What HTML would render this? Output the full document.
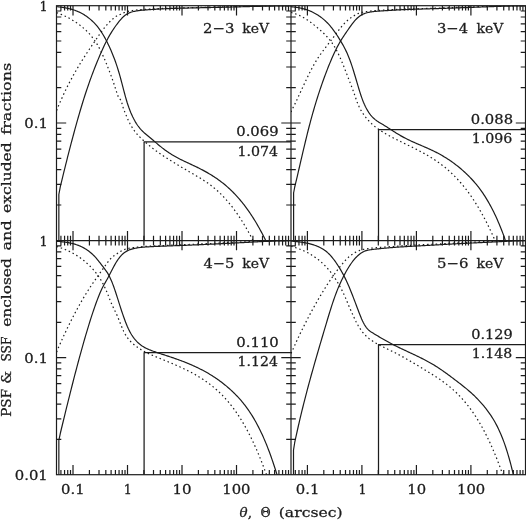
<!DOCTYPE html>
<html><head><meta charset="utf-8"><title>PSF &amp; SSF enclosed and excluded fractions</title>
<style>html,body{margin:0;padding:0;background:#fff}body{width:526px;height:521px;overflow:hidden}</style></head>
<body>
<svg width="526" height="521" viewBox="0 0 526 521" style="display:block">
<rect width="526" height="521" fill="#fff"/>
<defs>
<clipPath id="c0"><rect x="56.50" y="5.70" width="234.50" height="234.90"/></clipPath>
<clipPath id="c1"><rect x="291.00" y="5.70" width="234.50" height="234.90"/></clipPath>
<clipPath id="c2"><rect x="56.50" y="240.60" width="234.50" height="234.10"/></clipPath>
<clipPath id="c3"><rect x="291.00" y="240.60" width="234.50" height="234.10"/></clipPath>
</defs>
<g fill="none" stroke="#1c1c1c" stroke-width="1.2" stroke-linejoin="round">
<g clip-path="url(#c0)">
<path d="M56.66 6.66 L57.56 6.76 L58.47 6.88 L59.37 7.02 L60.28 7.13 L61.18 7.24 L62.09 7.37 L62.99 7.50 L63.89 7.64 L64.80 7.79 L65.70 7.95 L66.61 8.13 L67.51 8.31 L68.42 8.51 L69.32 8.72 L70.23 8.94 L71.13 9.18 L72.04 9.44 L72.94 9.71 L73.85 10.00 L74.75 10.30 L75.66 10.63 L76.56 10.98 L77.47 11.34 L78.37 11.73 L79.28 12.14 L80.18 12.58 L81.09 13.04 L81.99 13.52 L82.90 14.03 L83.80 14.57 L84.71 15.13 L85.61 15.72 L86.52 16.34 L87.42 16.99 L88.33 17.66 L89.23 18.37 L90.13 19.11 L91.04 19.89 L91.94 20.70 L92.85 21.55 L93.75 22.45 L94.66 23.38 L95.56 24.36 L96.47 25.40 L97.37 26.48 L98.28 27.62 L99.18 28.82 L100.09 30.08 L100.99 31.41 L101.90 32.80 L102.80 34.26 L103.71 35.78 L104.61 37.37 L105.52 39.03 L106.42 40.75 L107.33 42.54 L108.23 44.40 L109.14 46.32 L110.04 48.30 L110.95 50.34 L111.85 52.46 L112.76 54.65 L113.66 56.92 L114.57 59.30 L115.47 61.77 L116.37 64.37 L117.28 67.10 L118.18 69.96 L119.09 72.99 L119.99 76.17 L120.90 79.49 L121.80 82.90 L122.71 86.36 L123.61 89.82 L124.52 93.24 L125.42 96.56 L126.33 99.73 L127.23 102.71 L128.14 105.48 L129.04 108.06 L129.95 110.46 L130.85 112.70 L131.76 114.79 L132.66 116.75 L133.57 118.58 L134.47 120.28 L135.38 121.87 L136.28 123.35 L137.19 124.73 L138.09 126.01 L139.00 127.20 L139.90 128.32 L140.80 129.36 L141.71 130.33 L142.61 131.25 L143.52 132.12 L144.42 132.95 L145.33 133.75 L146.23 134.52 L147.14 135.27 L148.04 136.02 L148.95 136.77 L149.85 137.52 L150.76 138.28 L151.66 139.05 L152.57 139.81 L153.47 140.58 L154.38 141.35 L155.28 142.12 L156.19 142.89 L157.09 143.66 L158.00 144.42 L158.90 145.17 L159.81 145.92 L160.71 146.65 L161.62 147.38 L162.52 148.10 L163.43 148.80 L164.33 149.49 L165.24 150.17 L166.14 150.83 L167.04 151.47 L167.95 152.09 L168.85 152.70 L169.76 153.29 L170.66 153.87 L171.57 154.43 L172.47 154.98 L173.38 155.52 L174.28 156.04 L175.19 156.55 L176.09 157.06 L177.00 157.55 L177.90 158.03 L178.81 158.51 L179.71 158.97 L180.62 159.43 L181.52 159.88 L182.43 160.33 L183.33 160.76 L184.24 161.20 L185.14 161.63 L186.05 162.06 L186.95 162.48 L187.86 162.90 L188.76 163.32 L189.67 163.74 L190.57 164.16 L191.48 164.59 L192.38 165.01 L193.28 165.43 L194.19 165.86 L195.09 166.29 L196.00 166.72 L196.90 167.16 L197.81 167.61 L198.71 168.05 L199.62 168.51 L200.52 168.97 L201.43 169.43 L202.33 169.90 L203.24 170.38 L204.14 170.87 L205.05 171.36 L205.95 171.86 L206.86 172.37 L207.76 172.89 L208.67 173.42 L209.57 173.95 L210.48 174.50 L211.38 175.05 L212.29 175.62 L213.19 176.19 L214.10 176.78 L215.00 177.38 L215.91 177.99 L216.81 178.61 L217.72 179.25 L218.62 179.90 L219.52 180.56 L220.43 181.23 L221.33 181.92 L222.24 182.62 L223.14 183.34 L224.05 184.07 L224.95 184.82 L225.86 185.58 L226.76 186.36 L227.67 187.16 L228.57 187.97 L229.48 188.80 L230.38 189.65 L231.29 190.52 L232.19 191.40 L233.10 192.30 L234.00 193.22 L234.91 194.16 L235.81 195.13 L236.72 196.11 L237.62 197.11 L238.53 198.13 L239.43 199.17 L240.34 200.24 L241.24 201.33 L242.15 202.44 L243.05 203.57 L243.96 204.73 L244.86 205.91 L245.76 207.11 L246.67 208.34 L247.57 209.59 L248.48 210.87 L249.38 212.17 L250.29 213.50 L251.19 214.85 L252.10 216.23 L253.00 217.64 L253.91 219.08 L254.81 220.54 L255.72 222.03 L256.62 223.55 L257.53 225.10 L258.43 226.68 L259.34 228.28 L260.24 229.92 L261.15 231.59 L262.05 233.28 L262.96 235.01 L263.86 236.77 L264.77 238.56 L265.67 240.53 L266.58 242.33 L267.48 244.12 L268.39 245.92 L269.29 247.72 L270.20 249.51 L271.10 251.31 L272.00 253.11 L272.91 254.91 L273.81 256.71 L274.72 258.51 L275.62 260.31 L276.53 262.11 L277.43 263.91 L278.34 265.72 L279.24 267.52 L280.15 269.32 L281.05 271.12 L281.96 272.93 L282.86 274.73 L283.77 276.54 L284.67 278.34 L285.58 280.14 L286.48 281.95 L287.39 283.75 L288.29 285.56 L289.20 287.37 L290.10 289.17 L291.01 290.98"/>
<path d="M58.85 240.60 L58.85 194.50 L60.28 186.87 L61.18 183.10 L62.09 179.35 L62.99 175.63 L63.89 171.94 L64.80 168.28 L65.70 164.64 L66.61 161.03 L67.51 157.45 L68.42 153.90 L69.32 150.38 L70.23 146.90 L71.13 143.44 L72.04 140.01 L72.94 136.62 L73.85 133.26 L74.75 129.94 L75.66 126.65 L76.56 123.40 L77.47 120.18 L78.37 117.01 L79.28 113.87 L80.18 110.78 L81.09 107.74 L81.99 104.74 L82.90 101.79 L83.80 98.89 L84.71 96.04 L85.61 93.24 L86.52 90.50 L87.42 87.82 L88.33 85.18 L89.23 82.60 L90.13 80.07 L91.04 77.59 L91.94 75.15 L92.85 72.75 L93.75 70.39 L94.66 68.07 L95.56 65.78 L96.47 63.53 L97.37 61.31 L98.28 59.12 L99.18 56.97 L100.09 54.85 L100.99 52.76 L101.90 50.72 L102.80 48.71 L103.71 46.76 L104.61 44.85 L105.52 43.00 L106.42 41.20 L107.33 39.46 L108.23 37.77 L109.14 36.14 L110.04 34.57 L110.95 33.07 L111.85 31.61 L112.76 30.21 L113.66 28.85 L114.57 27.53 L115.47 26.25 L116.37 25.00 L117.28 23.79 L118.18 22.61 L119.09 21.47 L119.99 20.36 L120.90 19.29 L121.80 18.29 L122.71 17.36 L123.61 16.50 L124.52 15.72 L125.42 15.02 L126.33 14.41 L127.23 13.87 L128.14 13.40 L129.04 12.99 L129.95 12.62 L130.85 12.30 L131.76 12.02 L132.66 11.76 L133.57 11.54 L134.47 11.33 L135.38 11.15 L136.28 10.98 L137.19 10.83 L138.09 10.70 L139.00 10.57 L139.90 10.46 L140.80 10.36 L141.71 10.27 L142.61 10.18 L143.52 10.10 L144.42 10.03 L145.33 9.95 L146.23 9.89 L147.14 9.82 L148.04 9.76 L148.95 9.70 L149.85 9.63 L150.76 9.57 L151.66 9.51 L152.57 9.45 L153.47 9.39 L154.38 9.34 L155.28 9.28 L156.19 9.22 L157.09 9.17 L158.00 9.11 L158.90 9.06 L159.81 9.01 L160.71 8.96 L161.62 8.91 L162.52 8.86 L163.43 8.82 L164.33 8.77 L165.24 8.73 L166.14 8.69 L167.04 8.65 L167.95 8.61 L168.85 8.58 L169.76 8.54 L170.66 8.51 L171.57 8.48 L172.47 8.45 L173.38 8.42 L174.28 8.39 L175.19 8.36 L176.09 8.33 L177.00 8.31 L177.90 8.28 L178.81 8.25 L179.71 8.23 L180.62 8.21 L181.52 8.18 L182.43 8.16 L183.33 8.14 L184.24 8.12 L185.14 8.10 L186.05 8.08 L186.95 8.05 L187.86 8.03 L188.76 8.01 L189.67 7.99 L190.57 7.97 L191.48 7.96 L192.38 7.94 L193.28 7.92 L194.19 7.90 L195.09 7.88 L196.00 7.86 L196.90 7.84 L197.81 7.82 L198.71 7.80 L199.62 7.78 L200.52 7.76 L201.43 7.74 L202.33 7.72 L203.24 7.70 L204.14 7.68 L205.05 7.66 L205.95 7.64 L206.86 7.62 L207.76 7.60 L208.67 7.58 L209.57 7.56 L210.48 7.54 L211.38 7.52 L212.29 7.50 L213.19 7.48 L214.10 7.46 L215.00 7.43 L215.91 7.41 L216.81 7.39 L217.72 7.37 L218.62 7.35 L219.52 7.32 L220.43 7.30 L221.33 7.28 L222.24 7.26 L223.14 7.23 L224.05 7.21 L224.95 7.19 L225.86 7.16 L226.76 7.14 L227.67 7.12 L228.57 7.09 L229.48 7.07 L230.38 7.05 L231.29 7.02 L232.19 7.00 L233.10 6.98 L234.00 6.95 L234.91 6.93 L235.81 6.90 L236.72 6.88 L237.62 6.85 L238.53 6.83 L239.43 6.81 L240.34 6.78 L241.24 6.76 L242.15 6.73 L243.05 6.71 L243.96 6.69 L244.86 6.66 L245.76 6.64 L246.67 6.61 L247.57 6.59 L248.48 6.57 L249.38 6.54 L250.29 6.52 L251.19 6.50 L252.10 6.47 L253.00 6.45 L253.91 6.43 L254.81 6.41 L255.72 6.39 L256.62 6.36 L257.53 6.34 L258.43 6.32 L259.34 6.30 L260.24 6.28 L261.15 6.26 L262.05 6.24 L262.96 6.22 L263.86 6.20 L264.77 6.18 L265.67 6.16 L266.58 6.14 L267.48 6.13 L268.39 6.11 L269.29 6.09 L270.20 6.08 L271.10 6.06 L272.00 6.05 L272.91 6.03 L273.81 6.02 L274.72 6.01 L275.62 6.00 L276.53 5.98 L277.43 5.97 L278.34 5.96 L279.24 5.95 L280.15 5.94 L281.05 5.93 L281.96 5.92 L282.86 5.91 L283.77 5.90 L284.67 5.89 L285.58 5.88 L286.48 5.88 L287.39 5.87 L288.29 5.86 L289.20 5.85 L290.10 5.85 L291.01 5.84"/>
<path d="M56.66 12.62 L57.56 12.99 L58.47 13.33 L59.37 13.69 L60.28 14.05 L61.18 14.42 L62.09 14.80 L62.99 15.20 L63.89 15.61 L64.80 16.02 L65.70 16.46 L66.61 16.90 L67.51 17.36 L68.42 17.83 L69.32 18.31 L70.23 18.81 L71.13 19.33 L72.04 19.85 L72.94 20.40 L73.85 20.96 L74.75 21.54 L75.66 22.13 L76.56 22.75 L77.47 23.38 L78.37 24.03 L79.28 24.70 L80.18 25.39 L81.09 26.11 L81.99 26.84 L82.90 27.61 L83.80 28.39 L84.71 29.20 L85.61 30.04 L86.52 30.90 L87.42 31.80 L88.33 32.73 L89.23 33.70 L90.13 34.71 L91.04 35.76 L91.94 36.86 L92.85 38.01 L93.75 39.22 L94.66 40.48 L95.56 41.81 L96.47 43.21 L97.37 44.68 L98.28 46.23 L99.18 47.86 L100.09 49.58 L100.99 51.38 L101.90 53.25 L102.80 55.21 L103.71 57.23 L104.61 59.33 L105.52 61.48 L106.42 63.69 L107.33 65.94 L108.23 68.24 L109.14 70.56 L110.04 72.93 L110.95 75.35 L111.85 77.83 L112.76 80.37 L113.66 83.00 L114.57 85.72 L115.47 88.54 L116.37 91.41 L117.28 94.12 L118.18 96.44 L119.09 98.11 L119.99 99.12 L120.90 100.36 L121.80 102.87 L122.71 106.20 L123.61 109.08 L124.52 111.36 L125.42 113.48 L126.33 115.68 L127.23 117.85 L128.14 119.89 L129.04 121.80 L129.95 123.59 L130.85 125.26 L131.76 126.81 L132.66 128.27 L133.57 129.63 L134.47 130.90 L135.38 132.09 L136.28 133.20 L137.19 134.26 L138.09 135.26 L139.00 136.20 L139.90 137.11 L140.80 137.99 L141.71 138.85 L142.61 139.69 L143.52 140.52 L144.42 141.34 L145.33 142.15 L146.23 142.94 L147.14 143.72 L148.04 144.49 L148.95 145.25 L149.85 146.00 L150.76 146.74 L151.66 147.47 L152.57 148.18 L153.47 148.89 L154.38 149.58 L155.28 150.26 L156.19 150.94 L157.09 151.60 L158.00 152.25 L158.90 152.89 L159.81 153.53 L160.71 154.15 L161.62 154.76 L162.52 155.37 L163.43 155.96 L164.33 156.55 L165.24 157.14 L166.14 157.72 L167.04 158.29 L167.95 158.86 L168.85 159.43 L169.76 159.99 L170.66 160.55 L171.57 161.11 L172.47 161.67 L173.38 162.23 L174.28 162.78 L175.19 163.33 L176.09 163.88 L177.00 164.43 L177.90 164.97 L178.81 165.52 L179.71 166.06 L180.62 166.60 L181.52 167.14 L182.43 167.68 L183.33 168.21 L184.24 168.75 L185.14 169.29 L186.05 169.82 L186.95 170.35 L187.86 170.88 L188.76 171.41 L189.67 171.94 L190.57 172.47 L191.48 173.00 L192.38 173.53 L193.28 174.06 L194.19 174.59 L195.09 175.12 L196.00 175.65 L196.90 176.18 L197.81 176.72 L198.71 177.26 L199.62 177.81 L200.52 178.36 L201.43 178.92 L202.33 179.49 L203.24 180.06 L204.14 180.65 L205.05 181.24 L205.95 181.85 L206.86 182.47 L207.76 183.10 L208.67 183.74 L209.57 184.40 L210.48 185.07 L211.38 185.75 L212.29 186.46 L213.19 187.18 L214.10 187.92 L215.00 188.67 L215.91 189.45 L216.81 190.24 L217.72 191.06 L218.62 191.89 L219.52 192.75 L220.43 193.62 L221.33 194.52 L222.24 195.43 L223.14 196.37 L224.05 197.33 L224.95 198.31 L225.86 199.31 L226.76 200.33 L227.67 201.38 L228.57 202.44 L229.48 203.53 L230.38 204.64 L231.29 205.78 L232.19 206.94 L233.10 208.12 L234.00 209.32 L234.91 210.55 L235.81 211.80 L236.72 213.08 L237.62 214.38 L238.53 215.71 L239.43 217.06 L240.34 218.43 L241.24 219.83 L242.15 221.26 L243.05 222.71 L243.96 224.19 L244.86 225.70 L245.76 227.23 L246.67 228.78 L247.57 230.37 L248.48 231.98 L249.38 233.62 L250.29 235.29 L251.19 236.98 L252.10 238.70 L253.00 240.59 L253.91 242.37 L254.81 244.15 L255.72 245.94 L256.62 247.72 L257.53 249.51 L258.43 251.29 L259.34 253.08 L260.24 254.87 L261.15 256.66 L262.05 258.44 L262.96 260.23 L263.86 262.02 L264.77 263.81 L265.67 265.60 L266.58 267.39 L267.48 269.18 L268.39 270.97 L269.29 272.76 L270.20 274.56 L271.10 276.35 L272.00 278.14 L272.91 279.93 L273.81 281.73 L274.72 283.52 L275.62 285.31 L276.53 287.11 L277.43 288.90 L278.34 290.69 L279.24 292.49 L280.15 294.28 L281.05 296.08 L281.96 297.87 L282.86 299.67 L283.77 301.46 L284.67 303.26 L285.58 305.05 L286.48 306.85 L287.39 308.65 L288.29 310.44 L289.20 312.24 L290.10 314.04 L291.01 315.83" stroke-dasharray="1.5 2.8"/>
<path d="M56.66 110.52 L57.56 108.00 L58.47 105.86 L59.37 103.76 L60.28 101.69 L61.18 99.66 L62.09 97.67 L62.99 95.70 L63.89 93.77 L64.80 91.87 L65.70 90.00 L66.61 88.16 L67.51 86.35 L68.42 84.57 L69.32 82.81 L70.23 81.08 L71.13 79.38 L72.04 77.70 L72.94 76.04 L73.85 74.40 L74.75 72.79 L75.66 71.20 L76.56 69.63 L77.47 68.08 L78.37 66.54 L79.28 65.03 L80.18 63.53 L81.09 62.06 L81.99 60.60 L82.90 59.15 L83.80 57.73 L84.71 56.32 L85.61 54.92 L86.52 53.54 L87.42 52.17 L88.33 50.81 L89.23 49.46 L90.13 48.12 L91.04 46.78 L91.94 45.45 L92.85 44.12 L93.75 42.80 L94.66 41.47 L95.56 40.15 L96.47 38.84 L97.37 37.52 L98.28 36.22 L99.18 34.91 L100.09 33.62 L100.99 32.34 L101.90 31.09 L102.80 29.86 L103.71 28.67 L104.61 27.51 L105.52 26.40 L106.42 25.32 L107.33 24.29 L108.23 23.31 L109.14 22.38 L110.04 21.49 L110.95 20.63 L111.85 19.81 L112.76 19.02 L113.66 18.26 L114.57 17.52 L115.47 16.81 L116.37 16.13 L117.28 15.53 L118.18 15.05 L119.09 14.72 L119.99 14.52 L120.90 14.29 L121.80 13.84 L122.71 13.28 L123.61 12.83 L124.52 12.49 L125.42 12.20 L126.33 11.90 L127.23 11.63 L128.14 11.38 L129.04 11.15 L129.95 10.95 L130.85 10.77 L131.76 10.61 L132.66 10.47 L133.57 10.33 L134.47 10.21 L135.38 10.10 L136.28 10.00 L137.19 9.91 L138.09 9.82 L139.00 9.74 L139.90 9.67 L140.80 9.60 L141.71 9.53 L142.61 9.46 L143.52 9.40 L144.42 9.34 L145.33 9.28 L146.23 9.22 L147.14 9.16 L148.04 9.11 L148.95 9.05 L149.85 9.00 L150.76 8.95 L151.66 8.91 L152.57 8.86 L153.47 8.81 L154.38 8.77 L155.28 8.73 L156.19 8.68 L157.09 8.64 L158.00 8.60 L158.90 8.57 L159.81 8.53 L160.71 8.49 L161.62 8.46 L162.52 8.42 L163.43 8.39 L164.33 8.36 L165.24 8.33 L166.14 8.30 L167.04 8.27 L167.95 8.24 L168.85 8.21 L169.76 8.18 L170.66 8.15 L171.57 8.12 L172.47 8.09 L173.38 8.07 L174.28 8.04 L175.19 8.01 L176.09 7.99 L177.00 7.96 L177.90 7.94 L178.81 7.91 L179.71 7.89 L180.62 7.86 L181.52 7.84 L182.43 7.82 L183.33 7.79 L184.24 7.77 L185.14 7.75 L186.05 7.73 L186.95 7.70 L187.86 7.68 L188.76 7.66 L189.67 7.64 L190.57 7.62 L191.48 7.60 L192.38 7.58 L193.28 7.56 L194.19 7.54 L195.09 7.52 L196.00 7.50 L196.90 7.48 L197.81 7.46 L198.71 7.44 L199.62 7.42 L200.52 7.40 L201.43 7.38 L202.33 7.36 L203.24 7.34 L204.14 7.32 L205.05 7.30 L205.95 7.28 L206.86 7.26 L207.76 7.24 L208.67 7.22 L209.57 7.20 L210.48 7.18 L211.38 7.16 L212.29 7.14 L213.19 7.12 L214.10 7.10 L215.00 7.07 L215.91 7.05 L216.81 7.03 L217.72 7.01 L218.62 6.99 L219.52 6.96 L220.43 6.94 L221.33 6.92 L222.24 6.90 L223.14 6.87 L224.05 6.85 L224.95 6.83 L225.86 6.80 L226.76 6.78 L227.67 6.76 L228.57 6.73 L229.48 6.71 L230.38 6.69 L231.29 6.66 L232.19 6.64 L233.10 6.62 L234.00 6.60 L234.91 6.57 L235.81 6.55 L236.72 6.53 L237.62 6.51 L238.53 6.48 L239.43 6.46 L240.34 6.44 L241.24 6.42 L242.15 6.40 L243.05 6.38 L243.96 6.35 L244.86 6.33 L245.76 6.31 L246.67 6.29 L247.57 6.27 L248.48 6.25 L249.38 6.23 L250.29 6.22 L251.19 6.20 L252.10 6.18 L253.00 6.16 L253.91 6.14 L254.81 6.13 L255.72 6.11 L256.62 6.09 L257.53 6.08 L258.43 6.06 L259.34 6.05 L260.24 6.03 L261.15 6.02 L262.05 6.01 L262.96 6.00 L263.86 5.98 L264.77 5.97 L265.67 5.96 L266.58 5.95 L267.48 5.94 L268.39 5.93 L269.29 5.92 L270.20 5.91 L271.10 5.90 L272.00 5.89 L272.91 5.88 L273.81 5.88 L274.72 5.87 L275.62 5.86 L276.53 5.85 L277.43 5.85 L278.34 5.84 L279.24 5.83 L280.15 5.83 L281.05 5.82 L281.96 5.82 L282.86 5.81 L283.77 5.80 L284.67 5.80 L285.58 5.79 L286.48 5.79 L287.39 5.78 L288.29 5.78 L289.20 5.77 L290.10 5.77 L291.01 5.77" stroke-dasharray="1.5 2.8"/>
<path d="M144.10 240.60 L144.10 141.80 L291.00 141.80" stroke-width="1.25"/>
</g>
<g clip-path="url(#c1)">
<path d="M291.06 6.70 L291.96 6.79 L292.87 6.89 L293.77 7.01 L294.68 7.12 L295.58 7.23 L296.49 7.36 L297.39 7.49 L298.29 7.64 L299.20 7.80 L300.10 7.98 L301.01 8.17 L301.91 8.37 L302.82 8.59 L303.72 8.83 L304.63 9.09 L305.53 9.36 L306.44 9.66 L307.34 9.97 L308.25 10.30 L309.15 10.65 L310.06 11.02 L310.96 11.40 L311.87 11.81 L312.77 12.24 L313.68 12.69 L314.58 13.17 L315.49 13.66 L316.39 14.18 L317.30 14.73 L318.20 15.30 L319.11 15.90 L320.01 16.53 L320.92 17.19 L321.82 17.88 L322.73 18.60 L323.63 19.35 L324.53 20.14 L325.44 20.97 L326.34 21.83 L327.25 22.74 L328.15 23.69 L329.06 24.68 L329.96 25.71 L330.87 26.79 L331.77 27.91 L332.68 29.07 L333.58 30.28 L334.49 31.53 L335.39 32.82 L336.30 34.15 L337.20 35.51 L338.11 36.92 L339.01 38.35 L339.92 39.82 L340.82 41.32 L341.73 42.85 L342.63 44.42 L343.54 46.05 L344.44 47.74 L345.35 49.51 L346.25 51.37 L347.16 53.35 L348.06 55.45 L348.97 57.68 L349.87 60.05 L350.77 62.54 L351.68 65.16 L352.58 67.90 L353.49 70.75 L354.39 73.70 L355.30 76.72 L356.20 79.78 L357.11 82.87 L358.01 85.94 L358.92 88.96 L359.82 91.90 L360.73 94.71 L361.63 97.37 L362.54 99.86 L363.44 102.17 L364.35 104.29 L365.25 106.25 L366.16 108.04 L367.06 109.68 L367.97 111.19 L368.87 112.58 L369.78 113.86 L370.68 115.03 L371.59 116.11 L372.49 117.10 L373.40 118.00 L374.30 118.83 L375.20 119.60 L376.11 120.31 L377.01 120.97 L377.92 121.58 L378.82 122.16 L379.73 122.72 L380.63 123.26 L381.54 123.79 L382.44 124.32 L383.35 124.85 L384.25 125.40 L385.16 125.95 L386.06 126.52 L386.97 127.09 L387.87 127.66 L388.78 128.24 L389.68 128.83 L390.59 129.41 L391.49 130.00 L392.40 130.58 L393.30 131.16 L394.21 131.74 L395.11 132.32 L396.02 132.89 L396.92 133.45 L397.83 134.01 L398.73 134.56 L399.64 135.09 L400.54 135.62 L401.44 136.13 L402.35 136.64 L403.25 137.13 L404.16 137.61 L405.06 138.08 L405.97 138.55 L406.87 139.00 L407.78 139.45 L408.68 139.89 L409.59 140.32 L410.49 140.75 L411.40 141.17 L412.30 141.58 L413.21 141.99 L414.11 142.40 L415.02 142.80 L415.92 143.20 L416.83 143.59 L417.73 143.98 L418.64 144.38 L419.54 144.77 L420.45 145.15 L421.35 145.54 L422.26 145.93 L423.16 146.32 L424.07 146.71 L424.97 147.10 L425.88 147.50 L426.78 147.90 L427.68 148.30 L428.59 148.70 L429.49 149.11 L430.40 149.53 L431.30 149.95 L432.21 150.38 L433.11 150.81 L434.02 151.25 L434.92 151.70 L435.83 152.16 L436.73 152.62 L437.64 153.09 L438.54 153.57 L439.45 154.07 L440.35 154.56 L441.26 155.07 L442.16 155.59 L443.07 156.12 L443.97 156.66 L444.88 157.21 L445.78 157.77 L446.69 158.34 L447.59 158.92 L448.50 159.51 L449.40 160.11 L450.31 160.72 L451.21 161.35 L452.12 161.99 L453.02 162.63 L453.92 163.30 L454.83 163.97 L455.73 164.66 L456.64 165.36 L457.54 166.07 L458.45 166.80 L459.35 167.54 L460.26 168.29 L461.16 169.06 L462.07 169.84 L462.97 170.64 L463.88 171.45 L464.78 172.28 L465.69 173.12 L466.59 173.98 L467.50 174.85 L468.40 175.74 L469.31 176.65 L470.21 177.58 L471.12 178.52 L472.02 179.49 L472.93 180.49 L473.83 181.50 L474.74 182.54 L475.64 183.61 L476.55 184.70 L477.45 185.82 L478.36 186.97 L479.26 188.15 L480.16 189.36 L481.07 190.61 L481.97 191.89 L482.88 193.20 L483.78 194.55 L484.69 195.93 L485.59 197.36 L486.50 198.82 L487.40 200.32 L488.31 201.87 L489.21 203.46 L490.12 205.09 L491.02 206.76 L491.93 208.49 L492.83 210.25 L493.74 212.07 L494.64 213.94 L495.55 215.86 L496.45 217.82 L497.36 219.85 L498.26 221.92 L499.17 224.05 L500.07 226.24 L500.98 228.48 L501.88 230.79 L502.79 233.15 L503.69 235.57 L504.60 238.06 L505.50 240.87 L506.40 243.44 L507.31 246.01 L508.21 248.59 L509.12 251.16 L510.02 253.74 L510.93 256.31 L511.83 258.89 L512.74 261.47 L513.64 264.05 L514.55 266.63 L515.45 269.21 L516.36 271.80 L517.26 274.38 L518.17 276.96 L519.07 279.55 L519.98 282.13 L520.88 284.72 L521.79 287.30 L522.69 289.89 L523.60 292.48 L524.50 295.06 L525.41 297.65"/>
<path d="M293.60 240.60 L293.60 193.00 L294.68 187.24 L295.58 183.46 L296.49 179.63 L297.39 175.78 L298.29 171.89 L299.20 168.00 L300.10 164.10 L301.01 160.19 L301.91 156.30 L302.82 152.43 L303.72 148.58 L304.63 144.77 L305.53 140.99 L306.44 137.27 L307.34 133.61 L308.25 130.01 L309.15 126.49 L310.06 123.04 L310.96 119.67 L311.87 116.37 L312.77 113.15 L313.68 110.00 L314.58 106.91 L315.49 103.89 L316.39 100.93 L317.30 98.03 L318.20 95.19 L319.11 92.41 L320.01 89.68 L320.92 87.01 L321.82 84.39 L322.73 81.82 L323.63 79.29 L324.53 76.81 L325.44 74.38 L326.34 71.99 L327.25 69.65 L328.15 67.34 L329.06 65.08 L329.96 62.87 L330.87 60.71 L331.77 58.59 L332.68 56.53 L333.58 54.53 L334.49 52.58 L335.39 50.69 L336.30 48.86 L337.20 47.10 L338.11 45.39 L339.01 43.74 L339.92 42.16 L340.82 40.63 L341.73 39.17 L342.63 37.75 L343.54 36.36 L344.44 35.01 L345.35 33.67 L346.25 32.35 L347.16 31.03 L348.06 29.72 L348.97 28.42 L349.87 27.13 L350.77 25.87 L351.68 24.64 L352.58 23.45 L353.49 22.30 L354.39 21.21 L355.30 20.17 L356.20 19.20 L357.11 18.30 L358.01 17.47 L358.92 16.71 L359.82 16.02 L360.73 15.41 L361.63 14.86 L362.54 14.38 L363.44 13.96 L364.35 13.59 L365.25 13.27 L366.16 12.99 L367.06 12.74 L367.97 12.52 L368.87 12.32 L369.78 12.14 L370.68 11.99 L371.59 11.85 L372.49 11.72 L373.40 11.61 L374.30 11.50 L375.20 11.41 L376.11 11.33 L377.01 11.25 L377.92 11.18 L378.82 11.11 L379.73 11.05 L380.63 10.99 L381.54 10.93 L382.44 10.88 L383.35 10.82 L384.25 10.76 L385.16 10.70 L386.06 10.64 L386.97 10.59 L387.87 10.53 L388.78 10.47 L389.68 10.41 L390.59 10.35 L391.49 10.30 L392.40 10.24 L393.30 10.19 L394.21 10.13 L395.11 10.08 L396.02 10.03 L396.92 9.98 L397.83 9.93 L398.73 9.88 L399.64 9.84 L400.54 9.79 L401.44 9.75 L402.35 9.71 L403.25 9.67 L404.16 9.63 L405.06 9.59 L405.97 9.55 L406.87 9.52 L407.78 9.48 L408.68 9.45 L409.59 9.41 L410.49 9.38 L411.40 9.35 L412.30 9.32 L413.21 9.29 L414.11 9.26 L415.02 9.23 L415.92 9.20 L416.83 9.17 L417.73 9.14 L418.64 9.12 L419.54 9.09 L420.45 9.06 L421.35 9.03 L422.26 9.01 L423.16 8.98 L424.07 8.96 L424.97 8.93 L425.88 8.90 L426.78 8.88 L427.68 8.85 L428.59 8.82 L429.49 8.80 L430.40 8.77 L431.30 8.75 L432.21 8.72 L433.11 8.69 L434.02 8.67 L434.92 8.64 L435.83 8.61 L436.73 8.58 L437.64 8.56 L438.54 8.53 L439.45 8.50 L440.35 8.47 L441.26 8.44 L442.16 8.41 L443.07 8.38 L443.97 8.35 L444.88 8.32 L445.78 8.29 L446.69 8.26 L447.59 8.23 L448.50 8.20 L449.40 8.17 L450.31 8.14 L451.21 8.11 L452.12 8.08 L453.02 8.05 L453.92 8.02 L454.83 7.98 L455.73 7.95 L456.64 7.92 L457.54 7.89 L458.45 7.85 L459.35 7.82 L460.26 7.79 L461.16 7.76 L462.07 7.72 L462.97 7.69 L463.88 7.66 L464.78 7.63 L465.69 7.59 L466.59 7.56 L467.50 7.53 L468.40 7.49 L469.31 7.46 L470.21 7.43 L471.12 7.39 L472.02 7.36 L472.93 7.33 L473.83 7.29 L474.74 7.26 L475.64 7.23 L476.55 7.19 L477.45 7.16 L478.36 7.12 L479.26 7.09 L480.16 7.06 L481.07 7.02 L481.97 6.99 L482.88 6.95 L483.78 6.92 L484.69 6.88 L485.59 6.85 L486.50 6.81 L487.40 6.78 L488.31 6.75 L489.21 6.71 L490.12 6.68 L491.02 6.64 L491.93 6.61 L492.83 6.58 L493.74 6.55 L494.64 6.51 L495.55 6.48 L496.45 6.45 L497.36 6.42 L498.26 6.39 L499.17 6.36 L500.07 6.33 L500.98 6.30 L501.88 6.27 L502.79 6.24 L503.69 6.21 L504.60 6.19 L505.50 6.16 L506.40 6.13 L507.31 6.11 L508.21 6.09 L509.12 6.06 L510.02 6.04 L510.93 6.02 L511.83 6.01 L512.74 5.99 L513.64 5.97 L514.55 5.96 L515.45 5.94 L516.36 5.93 L517.26 5.91 L518.17 5.90 L519.07 5.89 L519.98 5.87 L520.88 5.86 L521.79 5.85 L522.69 5.84 L523.60 5.83 L524.50 5.82 L525.41 5.82"/>
<path d="M291.06 12.38 L291.96 12.72 L292.87 12.99 L293.77 13.27 L294.68 13.57 L295.58 13.89 L296.49 14.23 L297.39 14.59 L298.29 14.97 L299.20 15.37 L300.10 15.79 L301.01 16.23 L301.91 16.69 L302.82 17.18 L303.72 17.69 L304.63 18.22 L305.53 18.77 L306.44 19.34 L307.34 19.94 L308.25 20.56 L309.15 21.19 L310.06 21.85 L310.96 22.52 L311.87 23.22 L312.77 23.92 L313.68 24.65 L314.58 25.38 L315.49 26.13 L316.39 26.88 L317.30 27.64 L318.20 28.41 L319.11 29.19 L320.01 29.98 L320.92 30.77 L321.82 31.59 L322.73 32.42 L323.63 33.27 L324.53 34.15 L325.44 35.06 L326.34 35.99 L327.25 36.97 L328.15 37.98 L329.06 39.04 L329.96 40.15 L330.87 41.32 L331.77 42.55 L332.68 43.84 L333.58 45.21 L334.49 46.67 L335.39 48.21 L336.30 49.84 L337.20 51.57 L338.11 53.39 L339.01 55.28 L339.92 57.26 L340.82 59.31 L341.73 61.42 L342.63 63.60 L343.54 65.83 L344.44 68.10 L345.35 70.41 L346.25 72.74 L347.16 75.08 L348.06 77.43 L348.97 79.77 L349.87 82.10 L350.77 84.43 L351.68 86.78 L352.58 89.17 L353.49 91.64 L354.39 94.20 L355.30 96.86 L356.20 99.51 L357.11 101.97 L358.01 104.22 L358.92 106.28 L359.82 108.15 L360.73 109.87 L361.63 111.43 L362.54 112.88 L363.44 114.21 L364.35 115.47 L365.25 116.65 L366.16 117.79 L367.06 118.88 L367.97 119.93 L368.87 120.92 L369.78 121.88 L370.68 122.79 L371.59 123.67 L372.49 124.50 L373.40 125.31 L374.30 126.07 L375.20 126.81 L376.11 127.52 L377.01 128.20 L377.92 128.85 L378.82 129.49 L379.73 130.10 L380.63 130.69 L381.54 131.26 L382.44 131.82 L383.35 132.37 L384.25 132.91 L385.16 133.44 L386.06 133.96 L386.97 134.47 L387.87 134.98 L388.78 135.49 L389.68 135.98 L390.59 136.47 L391.49 136.96 L392.40 137.44 L393.30 137.91 L394.21 138.38 L395.11 138.85 L396.02 139.31 L396.92 139.77 L397.83 140.22 L398.73 140.67 L399.64 141.12 L400.54 141.57 L401.44 142.02 L402.35 142.46 L403.25 142.90 L404.16 143.34 L405.06 143.78 L405.97 144.22 L406.87 144.66 L407.78 145.10 L408.68 145.54 L409.59 145.98 L410.49 146.42 L411.40 146.86 L412.30 147.31 L413.21 147.76 L414.11 148.20 L415.02 148.66 L415.92 149.11 L416.83 149.57 L417.73 150.03 L418.64 150.50 L419.54 150.97 L420.45 151.45 L421.35 151.93 L422.26 152.41 L423.16 152.91 L424.07 153.40 L424.97 153.91 L425.88 154.42 L426.78 154.94 L427.68 155.47 L428.59 156.00 L429.49 156.54 L430.40 157.09 L431.30 157.65 L432.21 158.22 L433.11 158.80 L434.02 159.38 L434.92 159.98 L435.83 160.59 L436.73 161.21 L437.64 161.84 L438.54 162.48 L439.45 163.13 L440.35 163.80 L441.26 164.48 L442.16 165.17 L443.07 165.87 L443.97 166.59 L444.88 167.32 L445.78 168.07 L446.69 168.83 L447.59 169.61 L448.50 170.40 L449.40 171.21 L450.31 172.03 L451.21 172.87 L452.12 173.73 L453.02 174.60 L453.92 175.49 L454.83 176.40 L455.73 177.33 L456.64 178.28 L457.54 179.24 L458.45 180.23 L459.35 181.23 L460.26 182.26 L461.16 183.30 L462.07 184.37 L462.97 185.46 L463.88 186.56 L464.78 187.69 L465.69 188.85 L466.59 190.02 L467.50 191.22 L468.40 192.44 L469.31 193.69 L470.21 194.96 L471.12 196.25 L472.02 197.57 L472.93 198.91 L473.83 200.28 L474.74 201.67 L475.64 203.10 L476.55 204.54 L477.45 206.02 L478.36 207.52 L479.26 209.05 L480.16 210.61 L481.07 212.19 L481.97 213.81 L482.88 215.45 L483.78 217.13 L484.69 218.83 L485.59 220.56 L486.50 222.33 L487.40 224.12 L488.31 225.95 L489.21 227.81 L490.12 229.69 L491.02 231.62 L491.93 233.57 L492.83 235.56 L493.74 237.58 L494.64 239.64 L495.55 241.56 L496.45 243.55 L497.36 245.53 L498.26 247.52 L499.17 249.51 L500.07 251.50 L500.98 253.49 L501.88 255.48 L502.79 257.48 L503.69 259.47 L504.60 261.46 L505.50 263.46 L506.40 265.45 L507.31 267.44 L508.21 269.44 L509.12 271.43 L510.02 273.43 L510.93 275.43 L511.83 277.42 L512.74 279.42 L513.64 281.42 L514.55 283.42 L515.45 285.41 L516.36 287.41 L517.26 289.41 L518.17 291.41 L519.07 293.41 L519.98 295.41 L520.88 297.41 L521.79 299.41 L522.69 301.41 L523.60 303.41 L524.50 305.41 L525.41 307.41" stroke-dasharray="1.5 2.8"/>
<path d="M291.06 112.14 L291.96 109.81 L292.87 108.06 L293.77 106.27 L294.68 104.44 L295.58 102.58 L296.49 100.69 L297.39 98.77 L298.29 96.84 L299.20 94.89 L300.10 92.94 L301.01 90.98 L301.91 89.01 L302.82 87.05 L303.72 85.10 L304.63 83.16 L305.53 81.23 L306.44 79.32 L307.34 77.44 L308.25 75.58 L309.15 73.75 L310.06 71.95 L310.96 70.19 L311.87 68.47 L312.77 66.79 L313.68 65.15 L314.58 63.56 L315.49 62.01 L316.39 60.52 L317.30 59.08 L318.20 57.69 L319.11 56.34 L320.01 55.02 L320.92 53.74 L321.82 52.49 L322.73 51.26 L323.63 50.05 L324.53 48.86 L325.44 47.67 L326.34 46.50 L327.25 45.33 L328.15 44.16 L329.06 42.99 L329.96 41.81 L330.87 40.64 L331.77 39.45 L332.68 38.26 L333.58 37.06 L334.49 35.86 L335.39 34.64 L336.30 33.42 L337.20 32.21 L338.11 31.00 L339.01 29.82 L339.92 28.65 L340.82 27.52 L341.73 26.42 L342.63 25.36 L343.54 24.34 L344.44 23.37 L345.35 22.44 L346.25 21.56 L347.16 20.72 L348.06 19.94 L348.97 19.21 L349.87 18.52 L350.77 17.87 L351.68 17.25 L352.58 16.65 L353.49 16.08 L354.39 15.51 L355.30 14.96 L356.20 14.45 L357.11 14.00 L358.01 13.61 L358.92 13.27 L359.82 12.97 L360.73 12.71 L361.63 12.48 L362.54 12.28 L363.44 12.10 L364.35 11.93 L365.25 11.78 L366.16 11.63 L367.06 11.50 L367.97 11.37 L368.87 11.26 L369.78 11.15 L370.68 11.04 L371.59 10.95 L372.49 10.86 L373.40 10.77 L374.30 10.69 L375.20 10.61 L376.11 10.54 L377.01 10.47 L377.92 10.41 L378.82 10.35 L379.73 10.29 L380.63 10.23 L381.54 10.18 L382.44 10.13 L383.35 10.08 L384.25 10.03 L385.16 9.98 L386.06 9.94 L386.97 9.89 L387.87 9.85 L388.78 9.80 L389.68 9.76 L390.59 9.72 L391.49 9.68 L392.40 9.64 L393.30 9.60 L394.21 9.57 L395.11 9.53 L396.02 9.49 L396.92 9.46 L397.83 9.42 L398.73 9.39 L399.64 9.35 L400.54 9.32 L401.44 9.29 L402.35 9.25 L403.25 9.22 L404.16 9.19 L405.06 9.16 L405.97 9.13 L406.87 9.10 L407.78 9.07 L408.68 9.03 L409.59 9.00 L410.49 8.97 L411.40 8.95 L412.30 8.92 L413.21 8.89 L414.11 8.86 L415.02 8.83 L415.92 8.80 L416.83 8.77 L417.73 8.74 L418.64 8.71 L419.54 8.68 L420.45 8.65 L421.35 8.62 L422.26 8.60 L423.16 8.57 L424.07 8.54 L424.97 8.51 L425.88 8.48 L426.78 8.45 L427.68 8.42 L428.59 8.39 L429.49 8.36 L430.40 8.33 L431.30 8.30 L432.21 8.27 L433.11 8.24 L434.02 8.21 L434.92 8.18 L435.83 8.15 L436.73 8.12 L437.64 8.09 L438.54 8.05 L439.45 8.02 L440.35 7.99 L441.26 7.96 L442.16 7.93 L443.07 7.90 L443.97 7.86 L444.88 7.83 L445.78 7.80 L446.69 7.77 L447.59 7.73 L448.50 7.70 L449.40 7.67 L450.31 7.64 L451.21 7.60 L452.12 7.57 L453.02 7.54 L453.92 7.50 L454.83 7.47 L455.73 7.44 L456.64 7.40 L457.54 7.37 L458.45 7.34 L459.35 7.30 L460.26 7.27 L461.16 7.24 L462.07 7.20 L462.97 7.17 L463.88 7.14 L464.78 7.10 L465.69 7.07 L466.59 7.04 L467.50 7.00 L468.40 6.97 L469.31 6.94 L470.21 6.91 L471.12 6.88 L472.02 6.84 L472.93 6.81 L473.83 6.78 L474.74 6.75 L475.64 6.72 L476.55 6.69 L477.45 6.66 L478.36 6.63 L479.26 6.60 L480.16 6.57 L481.07 6.54 L481.97 6.52 L482.88 6.49 L483.78 6.46 L484.69 6.43 L485.59 6.41 L486.50 6.38 L487.40 6.36 L488.31 6.33 L489.21 6.31 L490.12 6.28 L491.02 6.26 L491.93 6.24 L492.83 6.21 L493.74 6.19 L494.64 6.17 L495.55 6.15 L496.45 6.13 L497.36 6.11 L498.26 6.09 L499.17 6.08 L500.07 6.06 L500.98 6.05 L501.88 6.03 L502.79 6.02 L503.69 6.00 L504.60 5.99 L505.50 5.97 L506.40 5.96 L507.31 5.95 L508.21 5.94 L509.12 5.93 L510.02 5.92 L510.93 5.91 L511.83 5.90 L512.74 5.89 L513.64 5.88 L514.55 5.87 L515.45 5.86 L516.36 5.85 L517.26 5.84 L518.17 5.84 L519.07 5.83 L519.98 5.82 L520.88 5.82 L521.79 5.81 L522.69 5.80 L523.60 5.80 L524.50 5.79 L525.41 5.79" stroke-dasharray="1.5 2.8"/>
<path d="M378.50 240.60 L378.50 129.70 L525.50 129.70" stroke-width="1.25"/>
</g>
<g clip-path="url(#c2)">
<path d="M56.66 241.25 L57.56 241.33 L58.47 241.42 L59.37 241.52 L60.28 241.61 L61.18 241.70 L62.09 241.79 L62.99 241.90 L63.89 242.01 L64.80 242.13 L65.70 242.26 L66.61 242.40 L67.51 242.54 L68.42 242.70 L69.32 242.87 L70.23 243.06 L71.13 243.25 L72.04 243.46 L72.94 243.68 L73.85 243.92 L74.75 244.18 L75.66 244.45 L76.56 244.75 L77.47 245.06 L78.37 245.39 L79.28 245.75 L80.18 246.12 L81.09 246.53 L81.99 246.96 L82.90 247.41 L83.80 247.90 L84.71 248.41 L85.61 248.95 L86.52 249.53 L87.42 250.14 L88.33 250.79 L89.23 251.48 L90.13 252.20 L91.04 252.96 L91.94 253.77 L92.85 254.61 L93.75 255.50 L94.66 256.44 L95.56 257.42 L96.47 258.45 L97.37 259.52 L98.28 260.63 L99.18 261.77 L100.09 262.93 L100.99 264.11 L101.90 265.30 L102.80 266.48 L103.71 267.65 L104.61 268.83 L105.52 270.04 L106.42 271.32 L107.33 272.68 L108.23 274.18 L109.14 275.84 L110.04 277.66 L110.95 279.66 L111.85 281.81 L112.76 284.11 L113.66 286.54 L114.57 289.10 L115.47 291.77 L116.37 294.52 L117.28 297.34 L118.18 300.19 L119.09 303.06 L119.99 305.91 L120.90 308.73 L121.80 311.49 L122.71 314.18 L123.61 316.80 L124.52 319.32 L125.42 321.74 L126.33 324.04 L127.23 326.20 L128.14 328.23 L129.04 330.11 L129.95 331.86 L130.85 333.47 L131.76 334.97 L132.66 336.35 L133.57 337.62 L134.47 338.80 L135.38 339.89 L136.28 340.91 L137.19 341.85 L138.09 342.73 L139.00 343.55 L139.90 344.31 L140.80 345.02 L141.71 345.67 L142.61 346.28 L143.52 346.84 L144.42 347.37 L145.33 347.86 L146.23 348.31 L147.14 348.74 L148.04 349.15 L148.95 349.54 L149.85 349.90 L150.76 350.26 L151.66 350.61 L152.57 350.95 L153.47 351.29 L154.38 351.61 L155.28 351.93 L156.19 352.25 L157.09 352.56 L158.00 352.87 L158.90 353.17 L159.81 353.47 L160.71 353.77 L161.62 354.06 L162.52 354.35 L163.43 354.65 L164.33 354.94 L165.24 355.23 L166.14 355.53 L167.04 355.82 L167.95 356.12 L168.85 356.42 L169.76 356.72 L170.66 357.02 L171.57 357.33 L172.47 357.63 L173.38 357.94 L174.28 358.26 L175.19 358.57 L176.09 358.89 L177.00 359.21 L177.90 359.54 L178.81 359.87 L179.71 360.20 L180.62 360.53 L181.52 360.87 L182.43 361.22 L183.33 361.56 L184.24 361.92 L185.14 362.27 L186.05 362.63 L186.95 363.00 L187.86 363.37 L188.76 363.75 L189.67 364.13 L190.57 364.51 L191.48 364.90 L192.38 365.30 L193.28 365.70 L194.19 366.11 L195.09 366.53 L196.00 366.95 L196.90 367.38 L197.81 367.81 L198.71 368.25 L199.62 368.70 L200.52 369.16 L201.43 369.62 L202.33 370.09 L203.24 370.56 L204.14 371.05 L205.05 371.54 L205.95 372.05 L206.86 372.56 L207.76 373.07 L208.67 373.60 L209.57 374.14 L210.48 374.69 L211.38 375.24 L212.29 375.81 L213.19 376.39 L214.10 376.97 L215.00 377.57 L215.91 378.18 L216.81 378.80 L217.72 379.43 L218.62 380.07 L219.52 380.73 L220.43 381.39 L221.33 382.07 L222.24 382.76 L223.14 383.47 L224.05 384.18 L224.95 384.91 L225.86 385.66 L226.76 386.41 L227.67 387.18 L228.57 387.97 L229.48 388.77 L230.38 389.58 L231.29 390.41 L232.19 391.26 L233.10 392.12 L234.00 392.99 L234.91 393.89 L235.81 394.80 L236.72 395.73 L237.62 396.69 L238.53 397.66 L239.43 398.66 L240.34 399.68 L241.24 400.73 L242.15 401.80 L243.05 402.90 L243.96 404.03 L244.86 405.19 L245.76 406.38 L246.67 407.61 L247.57 408.86 L248.48 410.15 L249.38 411.47 L250.29 412.83 L251.19 414.23 L252.10 415.67 L253.00 417.14 L253.91 418.66 L254.81 420.22 L255.72 421.82 L256.62 423.47 L257.53 425.16 L258.43 426.90 L259.34 428.69 L260.24 430.52 L261.15 432.41 L262.05 434.34 L262.96 436.33 L263.86 438.37 L264.77 440.47 L265.67 442.62 L266.58 444.83 L267.48 447.10 L268.39 449.43 L269.29 451.81 L270.20 454.26 L271.10 456.77 L272.00 459.35 L272.91 461.99 L273.81 464.69 L274.72 467.46 L275.62 470.30 L276.53 473.21 L277.43 475.47 L278.34 478.11 L279.24 480.76 L280.15 483.41 L281.05 486.06 L281.96 488.71 L282.86 491.36 L283.77 494.01 L284.67 496.66 L285.58 499.32 L286.48 501.97 L287.39 504.63 L288.29 507.29 L289.20 509.94 L290.10 512.60 L291.01 515.26"/>
<path d="M58.85 474.70 L58.85 440.30 L60.28 433.51 L61.18 429.74 L62.09 425.99 L62.99 422.25 L63.89 418.53 L64.80 414.82 L65.70 411.13 L66.61 407.45 L67.51 403.79 L68.42 400.15 L69.32 396.52 L70.23 392.92 L71.13 389.34 L72.04 385.77 L72.94 382.23 L73.85 378.71 L74.75 375.22 L75.66 371.75 L76.56 368.31 L77.47 364.90 L78.37 361.51 L79.28 358.16 L80.18 354.83 L81.09 351.54 L81.99 348.29 L82.90 345.07 L83.80 341.88 L84.71 338.74 L85.61 335.63 L86.52 332.57 L87.42 329.55 L88.33 326.57 L89.23 323.64 L90.13 320.76 L91.04 317.93 L91.94 315.14 L92.85 312.41 L93.75 309.74 L94.66 307.11 L95.56 304.55 L96.47 302.04 L97.37 299.60 L98.28 297.25 L99.18 294.98 L100.09 292.81 L100.99 290.76 L101.90 288.82 L102.80 287.00 L103.71 285.29 L104.61 283.67 L105.52 282.09 L106.42 280.52 L107.33 278.93 L108.23 277.29 L109.14 275.58 L110.04 273.83 L110.95 272.05 L111.85 270.26 L112.76 268.50 L113.66 266.78 L114.57 265.12 L115.47 263.52 L116.37 262.01 L117.28 260.58 L118.18 259.25 L119.09 258.02 L119.99 256.89 L120.90 255.85 L121.80 254.91 L122.71 254.06 L123.61 253.28 L124.52 252.58 L125.42 251.95 L126.33 251.38 L127.23 250.88 L128.14 250.43 L129.04 250.03 L129.95 249.67 L130.85 249.36 L131.76 249.08 L132.66 248.83 L133.57 248.60 L134.47 248.40 L135.38 248.22 L136.28 248.05 L137.19 247.90 L138.09 247.76 L139.00 247.64 L139.90 247.52 L140.80 247.42 L141.71 247.32 L142.61 247.24 L143.52 247.16 L144.42 247.08 L145.33 247.01 L146.23 246.95 L147.14 246.89 L148.04 246.84 L148.95 246.79 L149.85 246.74 L150.76 246.69 L151.66 246.65 L152.57 246.60 L153.47 246.56 L154.38 246.52 L155.28 246.48 L156.19 246.44 L157.09 246.40 L158.00 246.36 L158.90 246.32 L159.81 246.29 L160.71 246.25 L161.62 246.22 L162.52 246.18 L163.43 246.15 L164.33 246.11 L165.24 246.08 L166.14 246.04 L167.04 246.01 L167.95 245.97 L168.85 245.94 L169.76 245.91 L170.66 245.87 L171.57 245.84 L172.47 245.80 L173.38 245.77 L174.28 245.73 L175.19 245.70 L176.09 245.67 L177.00 245.63 L177.90 245.60 L178.81 245.56 L179.71 245.53 L180.62 245.49 L181.52 245.46 L182.43 245.42 L183.33 245.39 L184.24 245.35 L185.14 245.31 L186.05 245.28 L186.95 245.24 L187.86 245.21 L188.76 245.17 L189.67 245.13 L190.57 245.09 L191.48 245.06 L192.38 245.02 L193.28 244.98 L194.19 244.94 L195.09 244.91 L196.00 244.87 L196.90 244.83 L197.81 244.79 L198.71 244.75 L199.62 244.71 L200.52 244.67 L201.43 244.63 L202.33 244.59 L203.24 244.55 L204.14 244.51 L205.05 244.47 L205.95 244.43 L206.86 244.39 L207.76 244.35 L208.67 244.30 L209.57 244.26 L210.48 244.22 L211.38 244.18 L212.29 244.14 L213.19 244.09 L214.10 244.05 L215.00 244.01 L215.91 243.96 L216.81 243.92 L217.72 243.87 L218.62 243.83 L219.52 243.78 L220.43 243.74 L221.33 243.69 L222.24 243.65 L223.14 243.60 L224.05 243.56 L224.95 243.51 L225.86 243.47 L226.76 243.42 L227.67 243.38 L228.57 243.33 L229.48 243.28 L230.38 243.24 L231.29 243.19 L232.19 243.14 L233.10 243.10 L234.00 243.05 L234.91 243.00 L235.81 242.96 L236.72 242.91 L237.62 242.86 L238.53 242.82 L239.43 242.77 L240.34 242.72 L241.24 242.68 L242.15 242.63 L243.05 242.58 L243.96 242.53 L244.86 242.49 L245.76 242.44 L246.67 242.39 L247.57 242.34 L248.48 242.29 L249.38 242.24 L250.29 242.20 L251.19 242.15 L252.10 242.10 L253.00 242.05 L253.91 242.00 L254.81 241.96 L255.72 241.91 L256.62 241.86 L257.53 241.82 L258.43 241.77 L259.34 241.72 L260.24 241.68 L261.15 241.63 L262.05 241.59 L262.96 241.54 L263.86 241.50 L264.77 241.46 L265.67 241.41 L266.58 241.37 L267.48 241.33 L268.39 241.29 L269.29 241.25 L270.20 241.22 L271.10 241.18 L272.00 241.14 L272.91 241.11 L273.81 241.07 L274.72 241.04 L275.62 241.01 L276.53 240.98 L277.43 240.95 L278.34 240.93 L279.24 240.90 L280.15 240.88 L281.05 240.86 L281.96 240.84 L282.86 240.82 L283.77 240.80 L284.67 240.78 L285.58 240.76 L286.48 240.75 L287.39 240.73 L288.29 240.72 L289.20 240.71 L290.10 240.69 L291.01 240.68"/>
<path d="M56.66 246.45 L57.56 246.78 L58.47 247.06 L59.37 247.35 L60.28 247.65 L61.18 247.97 L62.09 248.29 L62.99 248.63 L63.89 248.98 L64.80 249.34 L65.70 249.72 L66.61 250.11 L67.51 250.51 L68.42 250.92 L69.32 251.35 L70.23 251.80 L71.13 252.26 L72.04 252.73 L72.94 253.23 L73.85 253.74 L74.75 254.26 L75.66 254.80 L76.56 255.37 L77.47 255.94 L78.37 256.54 L79.28 257.16 L80.18 257.80 L81.09 258.46 L81.99 259.14 L82.90 259.84 L83.80 260.56 L84.71 261.31 L85.61 262.08 L86.52 262.87 L87.42 263.69 L88.33 264.54 L89.23 265.41 L90.13 266.30 L91.04 267.23 L91.94 268.18 L92.85 269.16 L93.75 270.18 L94.66 271.24 L95.56 272.35 L96.47 273.50 L97.37 274.71 L98.28 275.97 L99.18 277.30 L100.09 278.69 L100.99 280.16 L101.90 281.71 L102.80 283.35 L103.71 285.08 L104.61 286.92 L105.52 288.86 L106.42 290.92 L107.33 293.11 L108.23 295.40 L109.14 297.74 L110.04 300.06 L110.95 302.30 L111.85 304.41 L112.76 306.41 L113.66 308.32 L114.57 310.16 L115.47 311.96 L116.37 313.81 L117.28 315.82 L118.18 317.98 L119.09 320.24 L119.99 322.55 L120.90 324.85 L121.80 327.07 L122.71 329.18 L123.61 331.15 L124.52 332.96 L125.42 334.61 L126.33 336.11 L127.23 337.46 L128.14 338.68 L129.04 339.80 L129.95 340.82 L130.85 341.75 L131.76 342.63 L132.66 343.45 L133.57 344.23 L134.47 344.99 L135.38 345.72 L136.28 346.41 L137.19 347.08 L138.09 347.72 L139.00 348.34 L139.90 348.93 L140.80 349.50 L141.71 350.05 L142.61 350.57 L143.52 351.08 L144.42 351.57 L145.33 352.04 L146.23 352.50 L147.14 352.94 L148.04 353.37 L148.95 353.79 L149.85 354.20 L150.76 354.60 L151.66 354.99 L152.57 355.37 L153.47 355.76 L154.38 356.14 L155.28 356.51 L156.19 356.89 L157.09 357.26 L158.00 357.63 L158.90 358.00 L159.81 358.38 L160.71 358.75 L161.62 359.12 L162.52 359.49 L163.43 359.86 L164.33 360.23 L165.24 360.60 L166.14 360.97 L167.04 361.35 L167.95 361.72 L168.85 362.10 L169.76 362.48 L170.66 362.85 L171.57 363.24 L172.47 363.62 L173.38 364.01 L174.28 364.40 L175.19 364.79 L176.09 365.18 L177.00 365.58 L177.90 365.98 L178.81 366.39 L179.71 366.80 L180.62 367.21 L181.52 367.63 L182.43 368.06 L183.33 368.48 L184.24 368.92 L185.14 369.36 L186.05 369.80 L186.95 370.25 L187.86 370.70 L188.76 371.17 L189.67 371.63 L190.57 372.11 L191.48 372.59 L192.38 373.08 L193.28 373.58 L194.19 374.08 L195.09 374.59 L196.00 375.11 L196.90 375.64 L197.81 376.17 L198.71 376.72 L199.62 377.27 L200.52 377.83 L201.43 378.41 L202.33 378.99 L203.24 379.58 L204.14 380.18 L205.05 380.79 L205.95 381.42 L206.86 382.06 L207.76 382.71 L208.67 383.37 L209.57 384.04 L210.48 384.73 L211.38 385.43 L212.29 386.15 L213.19 386.89 L214.10 387.64 L215.00 388.40 L215.91 389.18 L216.81 389.98 L217.72 390.80 L218.62 391.63 L219.52 392.49 L220.43 393.36 L221.33 394.25 L222.24 395.17 L223.14 396.10 L224.05 397.05 L224.95 398.03 L225.86 399.03 L226.76 400.05 L227.67 401.09 L228.57 402.16 L229.48 403.25 L230.38 404.37 L231.29 405.51 L232.19 406.68 L233.10 407.87 L234.00 409.09 L234.91 410.34 L235.81 411.62 L236.72 412.92 L237.62 414.25 L238.53 415.61 L239.43 417.01 L240.34 418.43 L241.24 419.88 L242.15 421.36 L243.05 422.88 L243.96 424.43 L244.86 426.01 L245.76 427.62 L246.67 429.27 L247.57 430.95 L248.48 432.67 L249.38 434.42 L250.29 436.21 L251.19 438.03 L252.10 439.89 L253.00 441.79 L253.91 443.73 L254.81 445.70 L255.72 447.71 L256.62 449.77 L257.53 451.86 L258.43 453.99 L259.34 456.16 L260.24 458.38 L261.15 460.64 L262.05 462.94 L262.96 465.28 L263.86 467.66 L264.77 470.09 L265.67 472.56 L266.58 474.64 L267.48 476.93 L268.39 479.21 L269.29 481.49 L270.20 483.78 L271.10 486.06 L272.00 488.35 L272.91 490.64 L273.81 492.93 L274.72 495.22 L275.62 497.51 L276.53 499.80 L277.43 502.09 L278.34 504.38 L279.24 506.67 L280.15 508.97 L281.05 511.26 L281.96 513.55 L282.86 515.85 L283.77 518.14 L284.67 520.44 L285.58 522.73 L286.48 525.03 L287.39 527.33 L288.29 529.62 L289.20 531.92 L290.10 534.22 L291.01 536.52" stroke-dasharray="1.5 2.8"/>
<path d="M56.66 352.13 L57.56 349.63 L58.47 347.55 L59.37 345.48 L60.28 343.44 L61.18 341.42 L62.09 339.42 L62.99 337.44 L63.89 335.48 L64.80 333.55 L65.70 331.63 L66.61 329.73 L67.51 327.85 L68.42 325.99 L69.32 324.15 L70.23 322.33 L71.13 320.53 L72.04 318.75 L72.94 316.99 L73.85 315.24 L74.75 313.52 L75.66 311.82 L76.56 310.13 L77.47 308.47 L78.37 306.83 L79.28 305.20 L80.18 303.60 L81.09 302.01 L81.99 300.45 L82.90 298.90 L83.80 297.37 L84.71 295.87 L85.61 294.38 L86.52 292.92 L87.42 291.47 L88.33 290.05 L89.23 288.64 L90.13 287.26 L91.04 285.90 L91.94 284.55 L92.85 283.23 L93.75 281.91 L94.66 280.60 L95.56 279.31 L96.47 278.02 L97.37 276.73 L98.28 275.45 L99.18 274.17 L100.09 272.89 L100.99 271.62 L101.90 270.34 L102.80 269.07 L103.71 267.80 L104.61 266.53 L105.52 265.27 L106.42 264.02 L107.33 262.77 L108.23 261.55 L109.14 260.39 L110.04 259.31 L110.95 258.34 L111.85 257.47 L112.76 256.70 L113.66 256.00 L114.57 255.36 L115.47 254.76 L116.37 254.17 L117.28 253.57 L118.18 252.95 L119.09 252.33 L119.99 251.74 L120.90 251.19 L121.80 250.68 L122.71 250.22 L123.61 249.81 L124.52 249.46 L125.42 249.14 L126.33 248.87 L127.23 248.63 L128.14 248.42 L129.04 248.23 L129.95 248.06 L130.85 247.92 L131.76 247.78 L132.66 247.65 L133.57 247.53 L134.47 247.42 L135.38 247.32 L136.28 247.22 L137.19 247.12 L138.09 247.03 L139.00 246.95 L139.90 246.87 L140.80 246.79 L141.71 246.72 L142.61 246.65 L143.52 246.59 L144.42 246.52 L145.33 246.46 L146.23 246.41 L147.14 246.35 L148.04 246.30 L148.95 246.25 L149.85 246.20 L150.76 246.15 L151.66 246.11 L152.57 246.06 L153.47 246.02 L154.38 245.97 L155.28 245.93 L156.19 245.89 L157.09 245.85 L158.00 245.80 L158.90 245.76 L159.81 245.72 L160.71 245.68 L161.62 245.64 L162.52 245.60 L163.43 245.56 L164.33 245.52 L165.24 245.48 L166.14 245.45 L167.04 245.41 L167.95 245.37 L168.85 245.33 L169.76 245.29 L170.66 245.26 L171.57 245.22 L172.47 245.18 L173.38 245.14 L174.28 245.11 L175.19 245.07 L176.09 245.03 L177.00 244.99 L177.90 244.96 L178.81 244.92 L179.71 244.88 L180.62 244.84 L181.52 244.81 L182.43 244.77 L183.33 244.73 L184.24 244.69 L185.14 244.65 L186.05 244.62 L186.95 244.58 L187.86 244.54 L188.76 244.50 L189.67 244.46 L190.57 244.42 L191.48 244.39 L192.38 244.35 L193.28 244.31 L194.19 244.27 L195.09 244.23 L196.00 244.19 L196.90 244.15 L197.81 244.11 L198.71 244.07 L199.62 244.03 L200.52 243.99 L201.43 243.95 L202.33 243.90 L203.24 243.86 L204.14 243.82 L205.05 243.78 L205.95 243.74 L206.86 243.70 L207.76 243.65 L208.67 243.61 L209.57 243.57 L210.48 243.52 L211.38 243.48 L212.29 243.44 L213.19 243.39 L214.10 243.35 L215.00 243.30 L215.91 243.26 L216.81 243.21 L217.72 243.17 L218.62 243.12 L219.52 243.08 L220.43 243.03 L221.33 242.99 L222.24 242.94 L223.14 242.89 L224.05 242.85 L224.95 242.80 L225.86 242.75 L226.76 242.71 L227.67 242.66 L228.57 242.61 L229.48 242.57 L230.38 242.52 L231.29 242.47 L232.19 242.43 L233.10 242.38 L234.00 242.33 L234.91 242.29 L235.81 242.24 L236.72 242.19 L237.62 242.15 L238.53 242.10 L239.43 242.06 L240.34 242.01 L241.24 241.97 L242.15 241.92 L243.05 241.88 L243.96 241.84 L244.86 241.79 L245.76 241.75 L246.67 241.71 L247.57 241.67 L248.48 241.63 L249.38 241.59 L250.29 241.55 L251.19 241.51 L252.10 241.47 L253.00 241.43 L253.91 241.39 L254.81 241.36 L255.72 241.32 L256.62 241.29 L257.53 241.25 L258.43 241.22 L259.34 241.19 L260.24 241.16 L261.15 241.13 L262.05 241.10 L262.96 241.07 L263.86 241.04 L264.77 241.01 L265.67 240.98 L266.58 240.96 L267.48 240.94 L268.39 240.92 L269.29 240.90 L270.20 240.88 L271.10 240.86 L272.00 240.84 L272.91 240.82 L273.81 240.81 L274.72 240.79 L275.62 240.78 L276.53 240.76 L277.43 240.75 L278.34 240.73 L279.24 240.72 L280.15 240.71 L281.05 240.70 L281.96 240.69 L282.86 240.68 L283.77 240.67 L284.67 240.66 L285.58 240.65 L286.48 240.64 L287.39 240.63 L288.29 240.62 L289.20 240.62 L290.10 240.61 L291.01 240.60" stroke-dasharray="1.5 2.8"/>
<path d="M144.10 474.70 L144.10 352.70 L291.00 352.70" stroke-width="1.25"/>
</g>
<g clip-path="url(#c3)">
<path d="M291.06 241.10 L291.96 241.17 L292.87 241.25 L293.77 241.33 L294.68 241.41 L295.58 241.50 L296.49 241.59 L297.39 241.68 L298.29 241.79 L299.20 241.90 L300.10 242.01 L301.01 242.13 L301.91 242.26 L302.82 242.40 L303.72 242.55 L304.63 242.71 L305.53 242.87 L306.44 243.05 L307.34 243.23 L308.25 243.43 L309.15 243.64 L310.06 243.86 L310.96 244.10 L311.87 244.35 L312.77 244.62 L313.68 244.90 L314.58 245.20 L315.49 245.52 L316.39 245.86 L317.30 246.23 L318.20 246.61 L319.11 247.03 L320.01 247.47 L320.92 247.94 L321.82 248.44 L322.73 248.98 L323.63 249.56 L324.53 250.18 L325.44 250.84 L326.34 251.56 L327.25 252.32 L328.15 253.14 L329.06 254.02 L329.96 254.95 L330.87 255.95 L331.77 256.99 L332.68 258.09 L333.58 259.25 L334.49 260.45 L335.39 261.71 L336.30 263.00 L337.20 264.34 L338.11 265.73 L339.01 267.16 L339.92 268.64 L340.82 270.17 L341.73 271.75 L342.63 273.38 L343.54 275.07 L344.44 276.82 L345.35 278.63 L346.25 280.50 L347.16 282.44 L348.06 284.45 L348.97 286.53 L349.87 288.69 L350.77 290.91 L351.68 293.19 L352.58 295.51 L353.49 297.86 L354.39 300.22 L355.30 302.60 L356.20 305.00 L357.11 307.42 L358.01 309.82 L358.92 312.20 L359.82 314.53 L360.73 316.77 L361.63 318.92 L362.54 320.93 L363.44 322.80 L364.35 324.48 L365.25 325.97 L366.16 327.26 L367.06 328.39 L367.97 329.37 L368.87 330.23 L369.78 330.97 L370.68 331.64 L371.59 332.24 L372.49 332.81 L373.40 333.36 L374.30 333.91 L375.20 334.46 L376.11 335.00 L377.01 335.54 L377.92 336.09 L378.82 336.63 L379.73 337.16 L380.63 337.69 L381.54 338.22 L382.44 338.75 L383.35 339.27 L384.25 339.79 L385.16 340.30 L386.06 340.81 L386.97 341.32 L387.87 341.82 L388.78 342.31 L389.68 342.80 L390.59 343.28 L391.49 343.76 L392.40 344.23 L393.30 344.70 L394.21 345.16 L395.11 345.62 L396.02 346.07 L396.92 346.52 L397.83 346.96 L398.73 347.40 L399.64 347.84 L400.54 348.27 L401.44 348.70 L402.35 349.13 L403.25 349.56 L404.16 349.99 L405.06 350.41 L405.97 350.83 L406.87 351.25 L407.78 351.67 L408.68 352.09 L409.59 352.52 L410.49 352.94 L411.40 353.36 L412.30 353.78 L413.21 354.21 L414.11 354.63 L415.02 355.06 L415.92 355.49 L416.83 355.92 L417.73 356.36 L418.64 356.79 L419.54 357.24 L420.45 357.68 L421.35 358.13 L422.26 358.59 L423.16 359.05 L424.07 359.51 L424.97 359.98 L425.88 360.46 L426.78 360.94 L427.68 361.43 L428.59 361.93 L429.49 362.43 L430.40 362.94 L431.30 363.46 L432.21 363.98 L433.11 364.52 L434.02 365.06 L434.92 365.62 L435.83 366.18 L436.73 366.75 L437.64 367.33 L438.54 367.93 L439.45 368.53 L440.35 369.14 L441.26 369.75 L442.16 370.38 L443.07 371.01 L443.97 371.65 L444.88 372.30 L445.78 372.95 L446.69 373.61 L447.59 374.27 L448.50 374.93 L449.40 375.60 L450.31 376.28 L451.21 376.96 L452.12 377.64 L453.02 378.32 L453.92 379.01 L454.83 379.69 L455.73 380.38 L456.64 381.07 L457.54 381.76 L458.45 382.45 L459.35 383.14 L460.26 383.84 L461.16 384.54 L462.07 385.25 L462.97 385.97 L463.88 386.69 L464.78 387.42 L465.69 388.15 L466.59 388.90 L467.50 389.66 L468.40 390.43 L469.31 391.21 L470.21 392.00 L471.12 392.81 L472.02 393.63 L472.93 394.46 L473.83 395.31 L474.74 396.18 L475.64 397.07 L476.55 397.97 L477.45 398.90 L478.36 399.84 L479.26 400.81 L480.16 401.79 L481.07 402.80 L481.97 403.84 L482.88 404.90 L483.78 405.98 L484.69 407.09 L485.59 408.23 L486.50 409.39 L487.40 410.58 L488.31 411.81 L489.21 413.06 L490.12 414.36 L491.02 415.70 L491.93 417.08 L492.83 418.52 L493.74 420.01 L494.64 421.57 L495.55 423.18 L496.45 424.87 L497.36 426.63 L498.26 428.47 L499.17 430.39 L500.07 432.40 L500.98 434.50 L501.88 436.69 L502.79 438.99 L503.69 441.39 L504.60 443.90 L505.50 446.53 L506.40 449.27 L507.31 452.14 L508.21 455.13 L509.12 458.26 L510.02 461.53 L510.93 464.93 L511.83 468.48 L512.74 472.19 L513.64 475.59 L514.55 479.00 L515.45 482.42 L516.36 485.83 L517.26 489.25 L518.17 492.67 L519.07 496.09 L519.98 499.51 L520.88 502.93 L521.79 506.36 L522.69 509.78 L523.60 513.21 L524.50 516.64 L525.41 520.06"/>
<path d="M293.50 474.70 L293.50 450.20 L294.68 442.72 L295.58 438.49 L296.49 434.33 L297.39 430.25 L298.29 426.25 L299.20 422.32 L300.10 418.46 L301.01 414.66 L301.91 410.92 L302.82 407.24 L303.72 403.62 L304.63 400.05 L305.53 396.53 L306.44 393.05 L307.34 389.62 L308.25 386.23 L309.15 382.88 L310.06 379.56 L310.96 376.28 L311.87 373.02 L312.77 369.79 L313.68 366.59 L314.58 363.41 L315.49 360.25 L316.39 357.11 L317.30 353.98 L318.20 350.87 L319.11 347.77 L320.01 344.68 L320.92 341.61 L321.82 338.54 L322.73 335.48 L323.63 332.43 L324.53 329.38 L325.44 326.34 L326.34 323.31 L327.25 320.29 L328.15 317.28 L329.06 314.30 L329.96 311.36 L330.87 308.47 L331.77 305.64 L332.68 302.88 L333.58 300.20 L334.49 297.60 L335.39 295.10 L336.30 292.69 L337.20 290.37 L338.11 288.14 L339.01 285.99 L339.92 283.92 L340.82 281.93 L341.73 280.00 L342.63 278.15 L343.54 276.35 L344.44 274.62 L345.35 272.95 L346.25 271.33 L347.16 269.77 L348.06 268.25 L348.97 266.79 L349.87 265.38 L350.77 264.02 L351.68 262.73 L352.58 261.49 L353.49 260.33 L354.39 259.24 L355.30 258.21 L356.20 257.24 L357.11 256.33 L358.01 255.47 L358.92 254.68 L359.82 253.95 L360.73 253.29 L361.63 252.69 L362.54 252.15 L363.44 251.68 L364.35 251.28 L365.25 250.93 L366.16 250.64 L367.06 250.39 L367.97 250.18 L368.87 250.00 L369.78 249.85 L370.68 249.72 L371.59 249.60 L372.49 249.49 L373.40 249.38 L374.30 249.27 L375.20 249.17 L376.11 249.07 L377.01 248.97 L377.92 248.87 L378.82 248.78 L379.73 248.68 L380.63 248.59 L381.54 248.50 L382.44 248.41 L383.35 248.32 L384.25 248.23 L385.16 248.15 L386.06 248.07 L386.97 247.98 L387.87 247.91 L388.78 247.83 L389.68 247.75 L390.59 247.68 L391.49 247.60 L392.40 247.53 L393.30 247.46 L394.21 247.40 L395.11 247.33 L396.02 247.27 L396.92 247.20 L397.83 247.14 L398.73 247.08 L399.64 247.02 L400.54 246.96 L401.44 246.90 L402.35 246.84 L403.25 246.78 L404.16 246.73 L405.06 246.67 L405.97 246.62 L406.87 246.56 L407.78 246.51 L408.68 246.46 L409.59 246.40 L410.49 246.35 L411.40 246.30 L412.30 246.25 L413.21 246.20 L414.11 246.15 L415.02 246.10 L415.92 246.05 L416.83 246.00 L417.73 245.95 L418.64 245.90 L419.54 245.85 L420.45 245.80 L421.35 245.75 L422.26 245.70 L423.16 245.65 L424.07 245.60 L424.97 245.55 L425.88 245.50 L426.78 245.45 L427.68 245.40 L428.59 245.35 L429.49 245.30 L430.40 245.25 L431.30 245.20 L432.21 245.15 L433.11 245.09 L434.02 245.04 L434.92 244.99 L435.83 244.94 L436.73 244.89 L437.64 244.83 L438.54 244.78 L439.45 244.73 L440.35 244.67 L441.26 244.62 L442.16 244.57 L443.07 244.51 L443.97 244.46 L444.88 244.41 L445.78 244.36 L446.69 244.30 L447.59 244.25 L448.50 244.20 L449.40 244.15 L450.31 244.10 L451.21 244.05 L452.12 244.00 L453.02 243.95 L453.92 243.90 L454.83 243.86 L455.73 243.81 L456.64 243.76 L457.54 243.72 L458.45 243.67 L459.35 243.62 L460.26 243.58 L461.16 243.54 L462.07 243.49 L462.97 243.45 L463.88 243.40 L464.78 243.36 L465.69 243.32 L466.59 243.28 L467.50 243.23 L468.40 243.19 L469.31 243.15 L470.21 243.10 L471.12 243.06 L472.02 243.02 L472.93 242.98 L473.83 242.93 L474.74 242.89 L475.64 242.85 L476.55 242.80 L477.45 242.76 L478.36 242.72 L479.26 242.67 L480.16 242.63 L481.07 242.59 L481.97 242.54 L482.88 242.50 L483.78 242.45 L484.69 242.41 L485.59 242.37 L486.50 242.32 L487.40 242.28 L488.31 242.23 L489.21 242.19 L490.12 242.14 L491.02 242.10 L491.93 242.05 L492.83 242.01 L493.74 241.96 L494.64 241.92 L495.55 241.87 L496.45 241.82 L497.36 241.78 L498.26 241.73 L499.17 241.68 L500.07 241.63 L500.98 241.58 L501.88 241.54 L502.79 241.49 L503.69 241.44 L504.60 241.39 L505.50 241.34 L506.40 241.30 L507.31 241.25 L508.21 241.20 L509.12 241.16 L510.02 241.11 L510.93 241.07 L511.83 241.03 L512.74 240.99 L513.64 240.95 L514.55 240.92 L515.45 240.89 L516.36 240.86 L517.26 240.83 L518.17 240.81 L519.07 240.79 L519.98 240.76 L520.88 240.74 L521.79 240.72 L522.69 240.71 L523.60 240.69 L524.50 240.67 L525.41 240.66"/>
<path d="M291.06 246.29 L291.96 246.54 L292.87 246.81 L293.77 247.08 L294.68 247.36 L295.58 247.66 L296.49 247.96 L297.39 248.28 L298.29 248.60 L299.20 248.94 L300.10 249.29 L301.01 249.66 L301.91 250.03 L302.82 250.42 L303.72 250.82 L304.63 251.24 L305.53 251.67 L306.44 252.12 L307.34 252.58 L308.25 253.06 L309.15 253.56 L310.06 254.07 L310.96 254.60 L311.87 255.15 L312.77 255.72 L313.68 256.31 L314.58 256.92 L315.49 257.56 L316.39 258.21 L317.30 258.89 L318.20 259.59 L319.11 260.31 L320.01 261.06 L320.92 261.84 L321.82 262.64 L322.73 263.47 L323.63 264.33 L324.53 265.22 L325.44 266.15 L326.34 267.10 L327.25 268.09 L328.15 269.12 L329.06 270.18 L329.96 271.28 L330.87 272.43 L331.77 273.61 L332.68 274.84 L333.58 276.11 L334.49 277.43 L335.39 278.80 L336.30 280.22 L337.20 281.69 L338.11 283.21 L339.01 284.80 L339.92 286.43 L340.82 288.13 L341.73 289.89 L342.63 291.72 L343.54 293.60 L344.44 295.56 L345.35 297.58 L346.25 299.68 L347.16 301.83 L348.06 304.01 L348.97 306.16 L349.87 308.25 L350.77 310.29 L351.68 312.29 L352.58 314.27 L353.49 316.25 L354.39 318.19 L355.30 320.08 L356.20 321.91 L357.11 323.65 L358.01 325.29 L358.92 326.83 L359.82 328.28 L360.73 329.63 L361.63 330.89 L362.54 332.07 L363.44 333.18 L364.35 334.20 L365.25 335.16 L366.16 336.05 L367.06 336.89 L367.97 337.67 L368.87 338.40 L369.78 339.10 L370.68 339.75 L371.59 340.38 L372.49 340.98 L373.40 341.56 L374.30 342.13 L375.20 342.68 L376.11 343.21 L377.01 343.73 L377.92 344.24 L378.82 344.73 L379.73 345.21 L380.63 345.69 L381.54 346.15 L382.44 346.61 L383.35 347.06 L384.25 347.50 L385.16 347.94 L386.06 348.37 L386.97 348.81 L387.87 349.24 L388.78 349.67 L389.68 350.10 L390.59 350.54 L391.49 350.97 L392.40 351.42 L393.30 351.86 L394.21 352.31 L395.11 352.77 L396.02 353.24 L396.92 353.70 L397.83 354.18 L398.73 354.66 L399.64 355.14 L400.54 355.63 L401.44 356.12 L402.35 356.61 L403.25 357.12 L404.16 357.62 L405.06 358.13 L405.97 358.64 L406.87 359.15 L407.78 359.67 L408.68 360.19 L409.59 360.72 L410.49 361.24 L411.40 361.77 L412.30 362.31 L413.21 362.84 L414.11 363.38 L415.02 363.92 L415.92 364.46 L416.83 365.00 L417.73 365.54 L418.64 366.09 L419.54 366.64 L420.45 367.18 L421.35 367.73 L422.26 368.28 L423.16 368.83 L424.07 369.38 L424.97 369.93 L425.88 370.48 L426.78 371.03 L427.68 371.58 L428.59 372.14 L429.49 372.69 L430.40 373.25 L431.30 373.82 L432.21 374.38 L433.11 374.95 L434.02 375.53 L434.92 376.11 L435.83 376.70 L436.73 377.29 L437.64 377.89 L438.54 378.50 L439.45 379.11 L440.35 379.73 L441.26 380.37 L442.16 381.01 L443.07 381.66 L443.97 382.33 L444.88 383.00 L445.78 383.69 L446.69 384.38 L447.59 385.09 L448.50 385.82 L449.40 386.56 L450.31 387.31 L451.21 388.08 L452.12 388.86 L453.02 389.66 L453.92 390.47 L454.83 391.30 L455.73 392.15 L456.64 393.02 L457.54 393.91 L458.45 394.81 L459.35 395.74 L460.26 396.69 L461.16 397.65 L462.07 398.64 L462.97 399.65 L463.88 400.69 L464.78 401.75 L465.69 402.83 L466.59 403.93 L467.50 405.06 L468.40 406.22 L469.31 407.40 L470.21 408.61 L471.12 409.84 L472.02 411.11 L472.93 412.40 L473.83 413.72 L474.74 415.07 L475.64 416.45 L476.55 417.86 L477.45 419.31 L478.36 420.78 L479.26 422.29 L480.16 423.83 L481.07 425.40 L481.97 427.01 L482.88 428.65 L483.78 430.33 L484.69 432.04 L485.59 433.79 L486.50 435.58 L487.40 437.40 L488.31 439.27 L489.21 441.17 L490.12 443.11 L491.02 445.09 L491.93 447.11 L492.83 449.17 L493.74 451.28 L494.64 453.42 L495.55 455.61 L496.45 457.84 L497.36 460.12 L498.26 462.44 L499.17 464.80 L500.07 467.21 L500.98 469.67 L501.88 472.17 L502.79 474.83 L503.69 477.43 L504.60 480.03 L505.50 482.62 L506.40 485.22 L507.31 487.82 L508.21 490.43 L509.12 493.03 L510.02 495.63 L510.93 498.24 L511.83 500.84 L512.74 503.45 L513.64 506.05 L514.55 508.66 L515.45 511.27 L516.36 513.88 L517.26 516.49 L518.17 519.10 L519.07 521.71 L519.98 524.32 L520.88 526.93 L521.79 529.54 L522.69 532.16 L523.60 534.77 L524.50 537.38 L525.41 540.00" stroke-dasharray="1.5 2.8"/>
<path d="M291.06 353.45 L291.96 351.43 L292.87 349.40 L293.77 347.39 L294.68 345.39 L295.58 343.42 L296.49 341.46 L297.39 339.52 L298.29 337.60 L299.20 335.70 L300.10 333.81 L301.01 331.94 L301.91 330.09 L302.82 328.25 L303.72 326.43 L304.63 324.62 L305.53 322.84 L306.44 321.06 L307.34 319.31 L308.25 317.57 L309.15 315.84 L310.06 314.13 L310.96 312.44 L311.87 310.76 L312.77 309.10 L313.68 307.45 L314.58 305.82 L315.49 304.20 L316.39 302.60 L317.30 301.02 L318.20 299.45 L319.11 297.90 L320.01 296.36 L320.92 294.85 L321.82 293.34 L322.73 291.86 L323.63 290.39 L324.53 288.94 L325.44 287.50 L326.34 286.08 L327.25 284.67 L328.15 283.28 L329.06 281.91 L329.96 280.56 L330.87 279.22 L331.77 277.90 L332.68 276.60 L333.58 275.31 L334.49 274.04 L335.39 272.80 L336.30 271.57 L337.20 270.36 L338.11 269.17 L339.01 268.00 L339.92 266.86 L340.82 265.73 L341.73 264.63 L342.63 263.55 L343.54 262.50 L344.44 261.47 L345.35 260.46 L346.25 259.48 L347.16 258.53 L348.06 257.63 L348.97 256.79 L349.87 256.02 L350.77 255.31 L351.68 254.65 L352.58 254.03 L353.49 253.44 L354.39 252.89 L355.30 252.38 L356.20 251.90 L357.11 251.47 L358.01 251.08 L358.92 250.73 L359.82 250.41 L360.73 250.13 L361.63 249.87 L362.54 249.63 L363.44 249.41 L364.35 249.22 L365.25 249.04 L366.16 248.88 L367.06 248.73 L367.97 248.59 L368.87 248.47 L369.78 248.35 L370.68 248.24 L371.59 248.14 L372.49 248.04 L373.40 247.95 L374.30 247.86 L375.20 247.77 L376.11 247.69 L377.01 247.61 L377.92 247.53 L378.82 247.46 L379.73 247.39 L380.63 247.32 L381.54 247.25 L382.44 247.19 L383.35 247.13 L384.25 247.06 L385.16 247.00 L386.06 246.94 L386.97 246.88 L387.87 246.83 L388.78 246.77 L389.68 246.71 L390.59 246.66 L391.49 246.60 L392.40 246.54 L393.30 246.49 L394.21 246.43 L395.11 246.37 L396.02 246.32 L396.92 246.26 L397.83 246.20 L398.73 246.15 L399.64 246.09 L400.54 246.03 L401.44 245.97 L402.35 245.92 L403.25 245.86 L404.16 245.81 L405.06 245.75 L405.97 245.69 L406.87 245.64 L407.78 245.58 L408.68 245.53 L409.59 245.47 L410.49 245.42 L411.40 245.36 L412.30 245.31 L413.21 245.26 L414.11 245.20 L415.02 245.15 L415.92 245.10 L416.83 245.05 L417.73 245.00 L418.64 244.95 L419.54 244.90 L420.45 244.85 L421.35 244.80 L422.26 244.75 L423.16 244.70 L424.07 244.65 L424.97 244.61 L425.88 244.56 L426.78 244.51 L427.68 244.47 L428.59 244.42 L429.49 244.38 L430.40 244.33 L431.30 244.29 L432.21 244.24 L433.11 244.20 L434.02 244.16 L434.92 244.11 L435.83 244.07 L436.73 244.03 L437.64 243.98 L438.54 243.94 L439.45 243.90 L440.35 243.85 L441.26 243.81 L442.16 243.77 L443.07 243.72 L443.97 243.68 L444.88 243.63 L445.78 243.59 L446.69 243.55 L447.59 243.50 L448.50 243.46 L449.40 243.41 L450.31 243.37 L451.21 243.32 L452.12 243.28 L453.02 243.23 L453.92 243.19 L454.83 243.14 L455.73 243.10 L456.64 243.05 L457.54 243.00 L458.45 242.96 L459.35 242.91 L460.26 242.86 L461.16 242.82 L462.07 242.77 L462.97 242.72 L463.88 242.68 L464.78 242.63 L465.69 242.58 L466.59 242.54 L467.50 242.49 L468.40 242.44 L469.31 242.40 L470.21 242.35 L471.12 242.30 L472.02 242.26 L472.93 242.21 L473.83 242.17 L474.74 242.12 L475.64 242.07 L476.55 242.03 L477.45 241.98 L478.36 241.94 L479.26 241.90 L480.16 241.85 L481.07 241.81 L481.97 241.77 L482.88 241.72 L483.78 241.68 L484.69 241.64 L485.59 241.60 L486.50 241.56 L487.40 241.52 L488.31 241.48 L489.21 241.44 L490.12 241.41 L491.02 241.37 L491.93 241.33 L492.83 241.30 L493.74 241.26 L494.64 241.23 L495.55 241.20 L496.45 241.16 L497.36 241.13 L498.26 241.10 L499.17 241.07 L500.07 241.04 L500.98 241.01 L501.88 240.99 L502.79 240.96 L503.69 240.93 L504.60 240.91 L505.50 240.89 L506.40 240.87 L507.31 240.84 L508.21 240.82 L509.12 240.81 L510.02 240.79 L510.93 240.77 L511.83 240.76 L512.74 240.74 L513.64 240.73 L514.55 240.71 L515.45 240.70 L516.36 240.69 L517.26 240.67 L518.17 240.66 L519.07 240.65 L519.98 240.64 L520.88 240.63 L521.79 240.62 L522.69 240.61 L523.60 240.61 L524.50 240.60 L525.41 240.59" stroke-dasharray="1.5 2.8"/>
<path d="M378.50 474.70 L378.50 344.60 L525.50 344.60" stroke-width="1.25"/>
</g>
</g>
<g fill="none" stroke="#1c1c1c" stroke-width="1.2">
<rect x="56.50" y="5.70" width="469.00" height="469.00"/>
<path d="M291.00 5.70 V474.70 M56.50 240.60 H525.50"/>
<path d="M60.92 240.60 v-4.80 M60.92 5.70 v4.80 M64.56 240.60 v-4.80 M64.56 5.70 v4.80 M67.72 240.60 v-4.80 M67.72 5.70 v4.80 M70.51 240.60 v-4.80 M70.51 5.70 v4.80 M73.01 240.60 v-9.70 M73.01 5.70 v9.70 M89.41 240.60 v-4.80 M89.41 5.70 v4.80 M99.01 240.60 v-4.80 M99.01 5.70 v4.80 M105.82 240.60 v-4.80 M105.82 5.70 v4.80 M111.10 240.60 v-4.80 M111.10 5.70 v4.80 M115.42 240.60 v-4.80 M115.42 5.70 v4.80 M119.06 240.60 v-4.80 M119.06 5.70 v4.80 M122.22 240.60 v-4.80 M122.22 5.70 v4.80 M125.01 240.60 v-4.80 M125.01 5.70 v4.80 M127.51 240.60 v-9.70 M127.51 5.70 v9.70 M143.91 240.60 v-4.80 M143.91 5.70 v4.80 M153.51 240.60 v-4.80 M153.51 5.70 v4.80 M160.32 240.60 v-4.80 M160.32 5.70 v4.80 M165.60 240.60 v-4.80 M165.60 5.70 v4.80 M169.92 240.60 v-4.80 M169.92 5.70 v4.80 M173.56 240.60 v-4.80 M173.56 5.70 v4.80 M176.72 240.60 v-4.80 M176.72 5.70 v4.80 M179.51 240.60 v-4.80 M179.51 5.70 v4.80 M182.01 240.60 v-9.70 M182.01 5.70 v9.70 M198.41 240.60 v-4.80 M198.41 5.70 v4.80 M208.01 240.60 v-4.80 M208.01 5.70 v4.80 M214.82 240.60 v-4.80 M214.82 5.70 v4.80 M220.10 240.60 v-4.80 M220.10 5.70 v4.80 M224.42 240.60 v-4.80 M224.42 5.70 v4.80 M228.06 240.60 v-4.80 M228.06 5.70 v4.80 M231.22 240.60 v-4.80 M231.22 5.70 v4.80 M234.01 240.60 v-4.80 M234.01 5.70 v4.80 M236.51 240.60 v-9.70 M236.51 5.70 v9.70 M252.91 240.60 v-4.80 M252.91 5.70 v4.80 M262.51 240.60 v-4.80 M262.51 5.70 v4.80 M269.32 240.60 v-4.80 M269.32 5.70 v4.80 M274.60 240.60 v-4.80 M274.60 5.70 v4.80 M278.92 240.60 v-4.80 M278.92 5.70 v4.80 M282.56 240.60 v-4.80 M282.56 5.70 v4.80 M285.72 240.60 v-4.80 M285.72 5.70 v4.80 M288.51 240.60 v-4.80 M288.51 5.70 v4.80 M56.50 205.02 h4.80 M291.00 205.02 h-4.80 M56.50 184.36 h4.80 M291.00 184.36 h-4.80 M56.50 169.70 h4.80 M291.00 169.70 h-4.80 M56.50 158.33 h4.80 M291.00 158.33 h-4.80 M56.50 149.03 h4.80 M291.00 149.03 h-4.80 M56.50 141.18 h4.80 M291.00 141.18 h-4.80 M56.50 134.37 h4.80 M291.00 134.37 h-4.80 M56.50 128.37 h4.80 M291.00 128.37 h-4.80 M56.50 123.00 h9.70 M291.00 123.00 h-9.70 M56.50 87.67 h4.80 M291.00 87.67 h-4.80 M56.50 67.01 h4.80 M291.00 67.01 h-4.80 M56.50 52.35 h4.80 M291.00 52.35 h-4.80 M56.50 40.98 h4.80 M291.00 40.98 h-4.80 M56.50 31.68 h4.80 M291.00 31.68 h-4.80 M56.50 23.83 h4.80 M291.00 23.83 h-4.80 M56.50 17.02 h4.80 M291.00 17.02 h-4.80 M56.50 11.02 h4.80 M291.00 11.02 h-4.80"/>
<path d="M295.32 240.60 v-4.80 M295.32 5.70 v4.80 M298.96 240.60 v-4.80 M298.96 5.70 v4.80 M302.12 240.60 v-4.80 M302.12 5.70 v4.80 M304.91 240.60 v-4.80 M304.91 5.70 v4.80 M307.41 240.60 v-9.70 M307.41 5.70 v9.70 M323.81 240.60 v-4.80 M323.81 5.70 v4.80 M333.41 240.60 v-4.80 M333.41 5.70 v4.80 M340.22 240.60 v-4.80 M340.22 5.70 v4.80 M345.50 240.60 v-4.80 M345.50 5.70 v4.80 M349.82 240.60 v-4.80 M349.82 5.70 v4.80 M353.46 240.60 v-4.80 M353.46 5.70 v4.80 M356.62 240.60 v-4.80 M356.62 5.70 v4.80 M359.41 240.60 v-4.80 M359.41 5.70 v4.80 M361.91 240.60 v-9.70 M361.91 5.70 v9.70 M378.31 240.60 v-4.80 M378.31 5.70 v4.80 M387.91 240.60 v-4.80 M387.91 5.70 v4.80 M394.72 240.60 v-4.80 M394.72 5.70 v4.80 M400.00 240.60 v-4.80 M400.00 5.70 v4.80 M404.32 240.60 v-4.80 M404.32 5.70 v4.80 M407.96 240.60 v-4.80 M407.96 5.70 v4.80 M411.12 240.60 v-4.80 M411.12 5.70 v4.80 M413.91 240.60 v-4.80 M413.91 5.70 v4.80 M416.41 240.60 v-9.70 M416.41 5.70 v9.70 M432.81 240.60 v-4.80 M432.81 5.70 v4.80 M442.41 240.60 v-4.80 M442.41 5.70 v4.80 M449.22 240.60 v-4.80 M449.22 5.70 v4.80 M454.50 240.60 v-4.80 M454.50 5.70 v4.80 M458.82 240.60 v-4.80 M458.82 5.70 v4.80 M462.46 240.60 v-4.80 M462.46 5.70 v4.80 M465.62 240.60 v-4.80 M465.62 5.70 v4.80 M468.41 240.60 v-4.80 M468.41 5.70 v4.80 M470.91 240.60 v-9.70 M470.91 5.70 v9.70 M487.31 240.60 v-4.80 M487.31 5.70 v4.80 M496.91 240.60 v-4.80 M496.91 5.70 v4.80 M503.72 240.60 v-4.80 M503.72 5.70 v4.80 M509.00 240.60 v-4.80 M509.00 5.70 v4.80 M513.32 240.60 v-4.80 M513.32 5.70 v4.80 M516.96 240.60 v-4.80 M516.96 5.70 v4.80 M520.12 240.60 v-4.80 M520.12 5.70 v4.80 M522.91 240.60 v-4.80 M522.91 5.70 v4.80 M291.00 205.02 h4.80 M525.50 205.02 h-4.80 M291.00 184.36 h4.80 M525.50 184.36 h-4.80 M291.00 169.70 h4.80 M525.50 169.70 h-4.80 M291.00 158.33 h4.80 M525.50 158.33 h-4.80 M291.00 149.03 h4.80 M525.50 149.03 h-4.80 M291.00 141.18 h4.80 M525.50 141.18 h-4.80 M291.00 134.37 h4.80 M525.50 134.37 h-4.80 M291.00 128.37 h4.80 M525.50 128.37 h-4.80 M291.00 123.00 h9.70 M525.50 123.00 h-9.70 M291.00 87.67 h4.80 M525.50 87.67 h-4.80 M291.00 67.01 h4.80 M525.50 67.01 h-4.80 M291.00 52.35 h4.80 M525.50 52.35 h-4.80 M291.00 40.98 h4.80 M525.50 40.98 h-4.80 M291.00 31.68 h4.80 M525.50 31.68 h-4.80 M291.00 23.83 h4.80 M525.50 23.83 h-4.80 M291.00 17.02 h4.80 M525.50 17.02 h-4.80 M291.00 11.02 h4.80 M525.50 11.02 h-4.80"/>
<path d="M60.92 474.70 v-4.80 M60.92 240.60 v4.80 M64.56 474.70 v-4.80 M64.56 240.60 v4.80 M67.72 474.70 v-4.80 M67.72 240.60 v4.80 M70.51 474.70 v-4.80 M70.51 240.60 v4.80 M73.01 474.70 v-9.70 M73.01 240.60 v9.70 M89.41 474.70 v-4.80 M89.41 240.60 v4.80 M99.01 474.70 v-4.80 M99.01 240.60 v4.80 M105.82 474.70 v-4.80 M105.82 240.60 v4.80 M111.10 474.70 v-4.80 M111.10 240.60 v4.80 M115.42 474.70 v-4.80 M115.42 240.60 v4.80 M119.06 474.70 v-4.80 M119.06 240.60 v4.80 M122.22 474.70 v-4.80 M122.22 240.60 v4.80 M125.01 474.70 v-4.80 M125.01 240.60 v4.80 M127.51 474.70 v-9.70 M127.51 240.60 v9.70 M143.91 474.70 v-4.80 M143.91 240.60 v4.80 M153.51 474.70 v-4.80 M153.51 240.60 v4.80 M160.32 474.70 v-4.80 M160.32 240.60 v4.80 M165.60 474.70 v-4.80 M165.60 240.60 v4.80 M169.92 474.70 v-4.80 M169.92 240.60 v4.80 M173.56 474.70 v-4.80 M173.56 240.60 v4.80 M176.72 474.70 v-4.80 M176.72 240.60 v4.80 M179.51 474.70 v-4.80 M179.51 240.60 v4.80 M182.01 474.70 v-9.70 M182.01 240.60 v9.70 M198.41 474.70 v-4.80 M198.41 240.60 v4.80 M208.01 474.70 v-4.80 M208.01 240.60 v4.80 M214.82 474.70 v-4.80 M214.82 240.60 v4.80 M220.10 474.70 v-4.80 M220.10 240.60 v4.80 M224.42 474.70 v-4.80 M224.42 240.60 v4.80 M228.06 474.70 v-4.80 M228.06 240.60 v4.80 M231.22 474.70 v-4.80 M231.22 240.60 v4.80 M234.01 474.70 v-4.80 M234.01 240.60 v4.80 M236.51 474.70 v-9.70 M236.51 240.60 v9.70 M252.91 474.70 v-4.80 M252.91 240.60 v4.80 M262.51 474.70 v-4.80 M262.51 240.60 v4.80 M269.32 474.70 v-4.80 M269.32 240.60 v4.80 M274.60 474.70 v-4.80 M274.60 240.60 v4.80 M278.92 474.70 v-4.80 M278.92 240.60 v4.80 M282.56 474.70 v-4.80 M282.56 240.60 v4.80 M285.72 474.70 v-4.80 M285.72 240.60 v4.80 M288.51 474.70 v-4.80 M288.51 240.60 v4.80 M56.50 439.45 h4.80 M291.00 439.45 h-4.80 M56.50 418.82 h4.80 M291.00 418.82 h-4.80 M56.50 404.19 h4.80 M291.00 404.19 h-4.80 M56.50 392.84 h4.80 M291.00 392.84 h-4.80 M56.50 383.57 h4.80 M291.00 383.57 h-4.80 M56.50 375.72 h4.80 M291.00 375.72 h-4.80 M56.50 368.93 h4.80 M291.00 368.93 h-4.80 M56.50 362.94 h4.80 M291.00 362.94 h-4.80 M56.50 357.58 h9.70 M291.00 357.58 h-9.70 M56.50 322.32 h4.80 M291.00 322.32 h-4.80 M56.50 301.69 h4.80 M291.00 301.69 h-4.80 M56.50 287.06 h4.80 M291.00 287.06 h-4.80 M56.50 275.71 h4.80 M291.00 275.71 h-4.80 M56.50 266.44 h4.80 M291.00 266.44 h-4.80 M56.50 258.59 h4.80 M291.00 258.59 h-4.80 M56.50 251.80 h4.80 M291.00 251.80 h-4.80 M56.50 245.81 h4.80 M291.00 245.81 h-4.80"/>
<path d="M295.32 474.70 v-4.80 M295.32 240.60 v4.80 M298.96 474.70 v-4.80 M298.96 240.60 v4.80 M302.12 474.70 v-4.80 M302.12 240.60 v4.80 M304.91 474.70 v-4.80 M304.91 240.60 v4.80 M307.41 474.70 v-9.70 M307.41 240.60 v9.70 M323.81 474.70 v-4.80 M323.81 240.60 v4.80 M333.41 474.70 v-4.80 M333.41 240.60 v4.80 M340.22 474.70 v-4.80 M340.22 240.60 v4.80 M345.50 474.70 v-4.80 M345.50 240.60 v4.80 M349.82 474.70 v-4.80 M349.82 240.60 v4.80 M353.46 474.70 v-4.80 M353.46 240.60 v4.80 M356.62 474.70 v-4.80 M356.62 240.60 v4.80 M359.41 474.70 v-4.80 M359.41 240.60 v4.80 M361.91 474.70 v-9.70 M361.91 240.60 v9.70 M378.31 474.70 v-4.80 M378.31 240.60 v4.80 M387.91 474.70 v-4.80 M387.91 240.60 v4.80 M394.72 474.70 v-4.80 M394.72 240.60 v4.80 M400.00 474.70 v-4.80 M400.00 240.60 v4.80 M404.32 474.70 v-4.80 M404.32 240.60 v4.80 M407.96 474.70 v-4.80 M407.96 240.60 v4.80 M411.12 474.70 v-4.80 M411.12 240.60 v4.80 M413.91 474.70 v-4.80 M413.91 240.60 v4.80 M416.41 474.70 v-9.70 M416.41 240.60 v9.70 M432.81 474.70 v-4.80 M432.81 240.60 v4.80 M442.41 474.70 v-4.80 M442.41 240.60 v4.80 M449.22 474.70 v-4.80 M449.22 240.60 v4.80 M454.50 474.70 v-4.80 M454.50 240.60 v4.80 M458.82 474.70 v-4.80 M458.82 240.60 v4.80 M462.46 474.70 v-4.80 M462.46 240.60 v4.80 M465.62 474.70 v-4.80 M465.62 240.60 v4.80 M468.41 474.70 v-4.80 M468.41 240.60 v4.80 M470.91 474.70 v-9.70 M470.91 240.60 v9.70 M487.31 474.70 v-4.80 M487.31 240.60 v4.80 M496.91 474.70 v-4.80 M496.91 240.60 v4.80 M503.72 474.70 v-4.80 M503.72 240.60 v4.80 M509.00 474.70 v-4.80 M509.00 240.60 v4.80 M513.32 474.70 v-4.80 M513.32 240.60 v4.80 M516.96 474.70 v-4.80 M516.96 240.60 v4.80 M520.12 474.70 v-4.80 M520.12 240.60 v4.80 M522.91 474.70 v-4.80 M522.91 240.60 v4.80 M291.00 439.45 h4.80 M525.50 439.45 h-4.80 M291.00 418.82 h4.80 M525.50 418.82 h-4.80 M291.00 404.19 h4.80 M525.50 404.19 h-4.80 M291.00 392.84 h4.80 M525.50 392.84 h-4.80 M291.00 383.57 h4.80 M525.50 383.57 h-4.80 M291.00 375.72 h4.80 M525.50 375.72 h-4.80 M291.00 368.93 h4.80 M525.50 368.93 h-4.80 M291.00 362.94 h4.80 M525.50 362.94 h-4.80 M291.00 357.58 h9.70 M525.50 357.58 h-9.70 M291.00 322.32 h4.80 M525.50 322.32 h-4.80 M291.00 301.69 h4.80 M525.50 301.69 h-4.80 M291.00 287.06 h4.80 M525.50 287.06 h-4.80 M291.00 275.71 h4.80 M525.50 275.71 h-4.80 M291.00 266.44 h4.80 M525.50 266.44 h-4.80 M291.00 258.59 h4.80 M525.50 258.59 h-4.80 M291.00 251.80 h4.80 M525.50 251.80 h-4.80 M291.00 245.81 h4.80 M525.50 245.81 h-4.80"/>
</g>
<g fill="#1c1c1c" stroke="#1c1c1c" stroke-width="0.28" font-family='"DejaVu Serif","Liberation Serif",serif' font-size="13.80">
<text transform="translate(11.20 0) rotate(-90)" y="0"><tspan x="-416.75" textLength="27.80" lengthAdjust="spacingAndGlyphs">PSF</tspan> <tspan x="-383.75" textLength="12.90" lengthAdjust="spacingAndGlyphs">&amp;</tspan> <tspan x="-361.50" textLength="24.82" lengthAdjust="spacingAndGlyphs">SSF</tspan> <tspan x="-326.75" textLength="68.52" lengthAdjust="spacingAndGlyphs">enclosed</tspan> <tspan x="-250.50" textLength="30.28" lengthAdjust="spacingAndGlyphs">and</tspan> <tspan x="-213.00" textLength="70.77" lengthAdjust="spacingAndGlyphs">excluded</tspan> <tspan x="-134.75" textLength="72.02" lengthAdjust="spacingAndGlyphs">fractions</tspan></text>
<text x="39.50" y="10.80" textLength="8.13" lengthAdjust="spacingAndGlyphs">1</text>
<text x="24.25" y="128.30" textLength="23.56" lengthAdjust="spacingAndGlyphs">0.1</text>
<text x="39.50" y="245.80" textLength="8.13" lengthAdjust="spacingAndGlyphs">1</text>
<text x="24.25" y="363.00" textLength="23.56" lengthAdjust="spacingAndGlyphs">0.1</text>
<text x="14.75" y="480.20" textLength="33.00" lengthAdjust="spacingAndGlyphs">0.01</text>
<text x="61.00" y="493.50" textLength="23.56" lengthAdjust="spacingAndGlyphs">0.1</text>
<text x="123.75" y="493.50" textLength="8.10" lengthAdjust="spacingAndGlyphs">1</text>
<text x="172.50" y="493.50" textLength="19.11" lengthAdjust="spacingAndGlyphs">10</text>
<text x="222.25" y="493.50" textLength="28.22" lengthAdjust="spacingAndGlyphs">100</text>
<text x="295.75" y="493.50" textLength="23.59" lengthAdjust="spacingAndGlyphs">0.1</text>
<text x="358.50" y="493.50" textLength="7.94" lengthAdjust="spacingAndGlyphs">1</text>
<text x="407.25" y="493.50" textLength="18.82" lengthAdjust="spacingAndGlyphs">10</text>
<text x="457.00" y="493.50" textLength="28.25" lengthAdjust="spacingAndGlyphs">100</text>
<text x="236.25" y="136.00" textLength="42.33" lengthAdjust="spacingAndGlyphs">0.069</text>
<text x="237.50" y="155.60" textLength="40.61" lengthAdjust="spacingAndGlyphs">1.074</text>
<text x="470.75" y="123.60" textLength="42.33" lengthAdjust="spacingAndGlyphs">0.088</text>
<text x="471.75" y="143.20" textLength="40.64" lengthAdjust="spacingAndGlyphs">1.096</text>
<text x="236.25" y="346.60" textLength="42.57" lengthAdjust="spacingAndGlyphs">0.110</text>
<text x="237.50" y="366.20" textLength="40.36" lengthAdjust="spacingAndGlyphs">1.124</text>
<text x="471.25" y="338.60" textLength="41.57" lengthAdjust="spacingAndGlyphs">0.129</text>
<text x="471.75" y="358.20" textLength="40.39" lengthAdjust="spacingAndGlyphs">1.148</text>
<text y="33.20"><tspan x="203.00" textLength="31.36" lengthAdjust="spacingAndGlyphs">2−3</tspan> <tspan x="242.25" textLength="26.75" lengthAdjust="spacingAndGlyphs">keV</tspan></text>
<text y="33.20"><tspan x="437.00" textLength="31.08" lengthAdjust="spacingAndGlyphs">3−4</tspan> <tspan x="476.50" textLength="26.75" lengthAdjust="spacingAndGlyphs">keV</tspan></text>
<text y="268.30"><tspan x="203.50" textLength="30.81" lengthAdjust="spacingAndGlyphs">4−5</tspan> <tspan x="242.25" textLength="26.75" lengthAdjust="spacingAndGlyphs">keV</tspan></text>
<text y="268.30"><tspan x="437.00" textLength="31.36" lengthAdjust="spacingAndGlyphs">5−6</tspan> <tspan x="476.50" textLength="26.75" lengthAdjust="spacingAndGlyphs">keV</tspan></text>
<text y="517.30"><tspan x="239.50" textLength="12.42" lengthAdjust="spacingAndGlyphs"><tspan font-style="italic">θ</tspan>,</tspan> <tspan x="260.50" textLength="10.16" lengthAdjust="spacingAndGlyphs">Θ</tspan> <tspan x="278.75" textLength="63.82" lengthAdjust="spacingAndGlyphs">(arcsec)</tspan></text>
</g>
</svg>
</body></html>
